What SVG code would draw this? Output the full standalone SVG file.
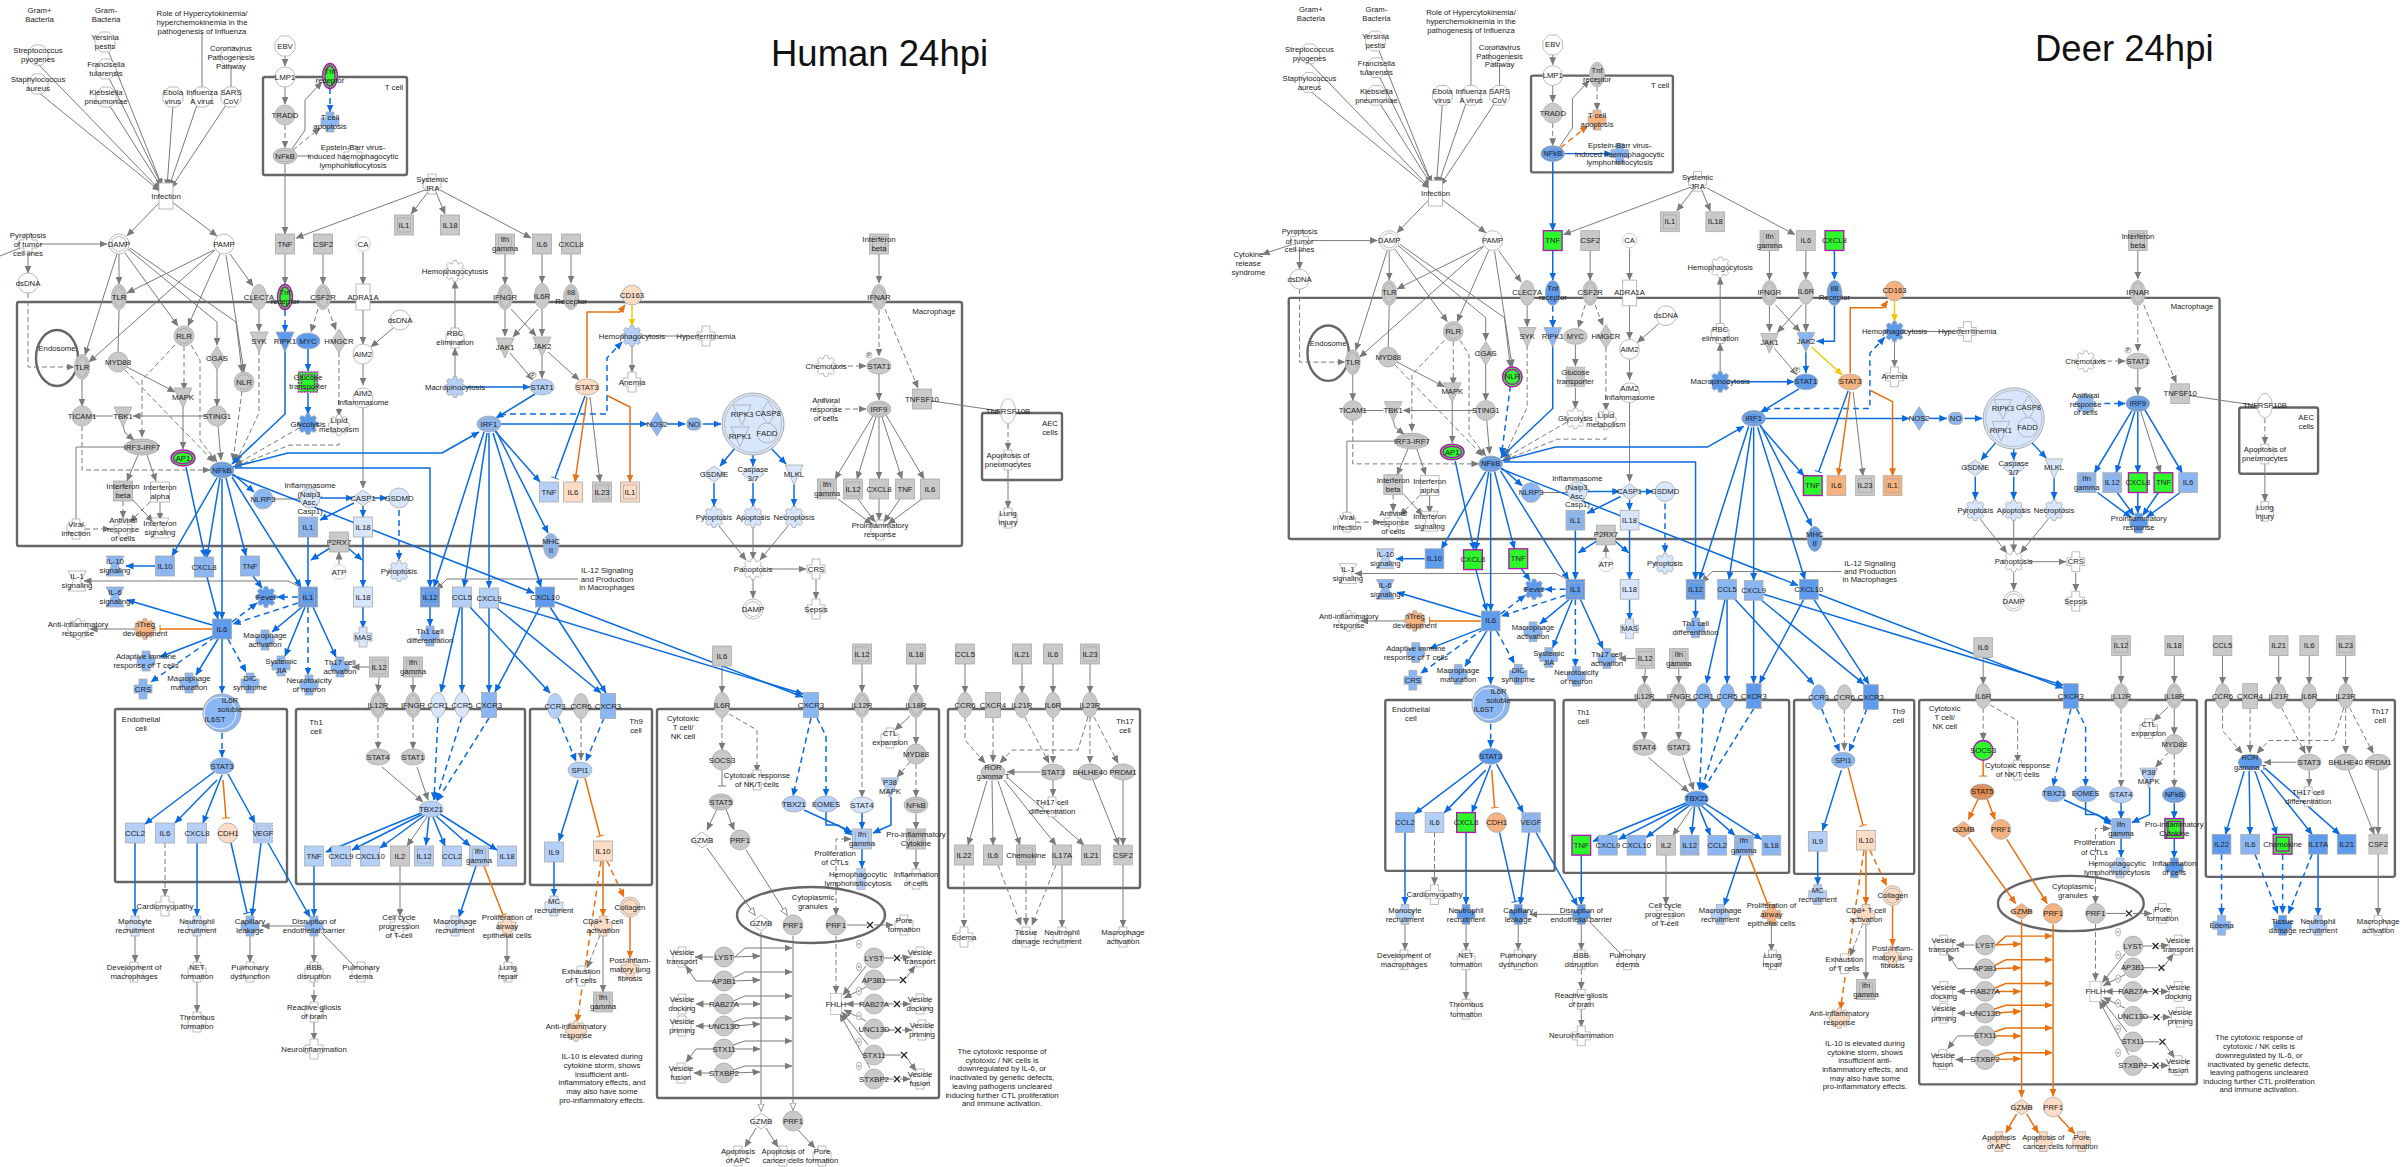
<svg xmlns="http://www.w3.org/2000/svg" width="2407" height="1167" viewBox="0 0 2407 1167">
<style>
text{font:7.8px "Liberation Sans",Arial,sans-serif;text-anchor:middle;dominant-baseline:central;fill:#222;stroke:none}
.t{font-size:36.5px;text-anchor:start;dominant-baseline:auto;fill:#111}
use{stroke:#aaa;stroke-width:.8}
.w{fill:#fff}.g{fill:#c9c9c9}.b0{fill:#d7e6fb}.b1{fill:#b4d0f8}.b2{fill:#8ab6f3}.b3{fill:#5f9bec}
.o1{fill:#fcdcc4}.o2{fill:#f6b27f}.o3{fill:#e58a4c}.m{fill:#2cf82c}.m use{stroke:#b018b0;stroke-width:1.4}
.box rect,.box ellipse{fill:none;stroke:#666;stroke-width:2.4}
.eg,.el,.ed,.eh,.bl,.bd,.bt,.or,.od,.ot,.ye,.gt{fill:none;stroke-linejoin:round}
.eg,.el,.ed,.eh,.gt{stroke:#7a7a7a;stroke-width:1}
.bl,.bd,.bt{stroke:#0a6be0;stroke-width:1.5}
.or,.od,.ot{stroke:#e8700f;stroke-width:1.5}
.ye{stroke:#f0c80f;stroke-width:1.5;marker-end:url(#ay)}
.eg,.ed{marker-end:url(#ag)}.eh{marker-end:url(#ah)}
.bl,.bd{marker-end:url(#ab)}.or,.od{marker-end:url(#ao)}
.bt{marker-end:url(#tb)}.ot{marker-end:url(#to)}.gt{marker-end:url(#tg)}
.ed{stroke-dasharray:5 3}.bd{stroke-dasharray:6 4}.od{stroke-dasharray:6 4}
.xx path{stroke:#222;stroke-width:1.3;fill:none}
</style>
<defs>
<marker id="ag" markerUnits="userSpaceOnUse" markerWidth="9" markerHeight="8" refX="7.5" refY="3.5" orient="auto"><path d="M0,0L8,3.5L0,7Z" fill="#7a7a7a"/></marker>
<marker id="ah" markerUnits="userSpaceOnUse" markerWidth="9" markerHeight="8" refX="7.5" refY="3.5" orient="auto"><path d="M.5,.5L8,3.5L.5,6.5Z" fill="#fff" stroke="#7a7a7a" stroke-width=".8"/></marker>
<marker id="ab" markerUnits="userSpaceOnUse" markerWidth="9" markerHeight="8" refX="7.5" refY="3.5" orient="auto"><path d="M0,0L8,3.5L0,7Z" fill="#0a6be0"/></marker>
<marker id="ao" markerUnits="userSpaceOnUse" markerWidth="9" markerHeight="8" refX="7.5" refY="3.5" orient="auto"><path d="M0,0L8,3.5L0,7Z" fill="#e8700f"/></marker>
<marker id="ay" markerUnits="userSpaceOnUse" markerWidth="9" markerHeight="8" refX="7.5" refY="3.5" orient="auto"><path d="M0,0L8,3.5L0,7Z" fill="#f0c80f"/></marker>
<marker id="tb" markerUnits="userSpaceOnUse" markerWidth="3" markerHeight="8" refX="1" refY="4" orient="auto"><path d="M1,0V8" stroke="#0a6be0"/></marker>
<marker id="to" markerUnits="userSpaceOnUse" markerWidth="3" markerHeight="8" refX="1" refY="4" orient="auto"><path d="M1,0V8" stroke="#e8700f"/></marker>
<marker id="tg" markerUnits="userSpaceOnUse" markerWidth="3" markerHeight="8" refX="1" refY="4" orient="auto"><path d="M1,0V8" stroke="#7a7a7a"/></marker>
<rect id="sq" x="-9.5" y="-10" width="19" height="20"/>
<g id="sd"><rect x="-9.5" y="-10" width="19" height="20"/><rect x="-6.5" y="-7" width="13" height="14" fill="none"/></g>
<g id="sx"><rect x="-9.5" y="-10" width="19" height="20" stroke-dasharray="2 1"/><rect x="-6.5" y="-7" width="13" height="14" fill="none" stroke-dasharray="2 1"/></g>
<circle id="ci" r="10"/>
<g id="cd"><circle r="10"/><circle r="7.5" fill="none"/></g>
<ellipse id="re" rx="7.5" ry="12.5"/>
<g id="rd"><ellipse rx="7.5" ry="12.5"/><ellipse rx="5" ry="10" fill="none"/></g>
<ellipse id="ov" rx="12" ry="8"/>
<g id="vd"><ellipse rx="12" ry="8"/><ellipse rx="9.5" ry="5.8" fill="none"/></g>
<path id="di" d="M0,-12L7.5,0L0,12L-7.5,0Z"/>
<path id="dw" d="M0,-8L11,0L0,8L-11,0Z"/>
<path id="tr" d="M-9,-9H9L0,11Z"/>
<path id="hg" d="M-9,-10H9L3.5,0L9,10H-9L-3.5,0Z"/>
<path id="oc" d="M-4,-10H4L10,-4V4L4,10H-4L-10,4V-4Z"/>
<rect id="ta" x="-7.5" y="-12.5" width="15" height="25"/>
<rect id="nr" x="-7" y="-13" width="14" height="26"/>
<path id="cx" d="M-4,-10H4V-4H9V4H4V10H-4V4H-9V-4H-4Z"/>
<path id="gr" d="M10.4,-1.6L10.4,1.6L6.9,2.9L8.5,6.2L6.2,8.5L2.9,6.9L1.6,10.4L-1.6,10.4L-2.9,6.9L-6.2,8.5L-8.5,6.2L-6.9,2.9L-10.4,1.6L-10.4,-1.6L-6.9,-2.9L-8.5,-6.2L-6.2,-8.5L-2.9,-6.9L-1.6,-10.4L1.6,-10.4L2.9,-6.9L6.2,-8.5L8.5,-6.2L6.9,-2.9Z"/>
<g id="st"><ellipse rx="2.4" ry="4" fill="#fff" stroke="#777" stroke-width=".6"/><circle r=".7" fill="#333"/></g>
</defs>
<rect width="2407" height="1167" fill="#fff"/>

<g id="human">
<text class="t" x="771" y="66">Human 24hpi</text>
<g class="box" id="h-containers"><rect x="263" y="77" width="144" height="98" rx="2"/><rect x="17" y="302" width="945" height="244" rx="2"/><ellipse cx="57" cy="358" rx="21" ry="28"/><rect x="982" y="413" width="80" height="67" rx="2"/><rect x="115" y="709" width="172" height="173" rx="2"/><rect x="296" y="709" width="229" height="175" rx="2"/><rect x="530" y="709" width="122" height="176" rx="2"/><rect x="657" y="709" width="282" height="389" rx="2"/><rect x="948" y="709" width="192" height="179" rx="2"/><ellipse cx="811" cy="915" rx="74" ry="28"/></g>
<g id="h-connectors">
<g class="eg"><path d="M38,64L160,190"/><path d="M38,92L160,191"/><path d="M108,50L162,186"/><path d="M108,76L162,186"/><path d="M108,103L162,188"/><path d="M173,105L167,187"/><path d="M197,105L169,187"/><path d="M226,105L171,188"/><path d="M160,202L127,236"/><path d="M172,202L217,236"/><path d="M40,244L107,244"/><path d="M28,252L28,273"/><path d="M119,254L119,284"/><path d="M117,254L85,355"/><path d="M125,253L178,326"/><path d="M128,249L217,322L217,345"/><path d="M130,248L236,322L242,372"/><path d="M214,250L127,293"/><path d="M215,250L89,362"/><path d="M220,254L188,326"/><path d="M230,254L253,286"/><path d="M226,255L244,372"/><path d="M82,380L82,406"/><path d="M127,367L175,392"/><path d="M217,368L217,406"/><path d="M218,426L221,460"/><path d="M207,416L133,416"/><path d="M123,425L125,433L134,440"/><path d="M183,405L183,449"/><path d="M138,455L127,481"/><path d="M147,455L156,481"/><path d="M133,500L153,522"/><path d="M160,502L160,520"/><path d="M259,310L259,331"/><path d="M285,164L285,234"/><path d="M425,190L296,238"/><path d="M428,192L411,214"/><path d="M436,192L445,214"/><path d="M440,190L531,238"/><path d="M285,56L285,66"/><path d="M285,87L285,104"/><path d="M292,149L305,130L305,100L322,82"/><path d="M323,254L323,284"/><path d="M363,252L363,284"/><path d="M285,254L285,284"/><path d="M363,310L363,344"/><path d="M393,328L371,347"/><path d="M363,364L363,385"/><path d="M363,405L363,488"/><path d="M339,564L339,552"/><path d="M302,588L288,581L84,581"/><path d="M135,629L90,629"/><path d="M455,377L455,348"/><path d="M455,328L455,281"/><path d="M505,254L505,284"/><path d="M542,254L542,283"/><path d="M571,254L571,283"/><path d="M505,310L505,336"/><path d="M511,309L536,336"/><path d="M538,309L513,337"/><path d="M542,309L542,336"/><path d="M510,353L533,380"/><path d="M542,357L542,378"/><path d="M548,352L579,380"/><path d="M590,397L600,482"/><path d="M632,346L632,372"/><path d="M719,526L746,560"/><path d="M753,527L753,559"/><path d="M788,526L760,560"/><path d="M768,569L806,569"/><path d="M753,580L753,598"/><path d="M816,580L816,599"/><path d="M879,254L879,283"/><path d="M879,374L879,400"/><path d="M873,416L835,479"/><path d="M876,417L857,479"/><path d="M879,417L879,479"/><path d="M882,417L902,479"/><path d="M886,415L924,479"/><path d="M838,499L872,524"/><path d="M858,499L875,522"/><path d="M879,499L879,520"/><path d="M900,499L884,522"/><path d="M922,499L888,524"/><path d="M1008,470L1008,508"/><path d="M379,677L378,692"/><path d="M413,677L413,692"/><path d="M382,767L423,802"/><path d="M417,767L428,800"/><path d="M427,817L407,846"/><path d="M369,667L352,667"/><path d="M578,579L447,579L436,590"/><path d="M305,926L262,926"/><path d="M135,936L135,962"/><path d="M197,936L197,962"/><path d="M197,982L197,1012"/><path d="M250,936L250,962"/><path d="M314,936L314,962"/><path d="M314,1022L314,1040"/><path d="M400,866L400,916"/><path d="M507,936L507,963"/><path d="M603,936L603,992"/><path d="M722,666L722,693"/><path d="M862,664L862,692"/><path d="M916,664L916,692"/><path d="M910,716L895,730"/><path d="M916,718L916,744"/><path d="M717,809L707,830"/><path d="M726,809L734,830"/><path d="M916,813L916,829"/><path d="M916,849L916,869"/><path d="M874,925L893,925"/><path d="M756,1128L745,1147"/><path d="M766,1128L778,1147"/><path d="M798,1130L815,1148"/><path d="M713,957L695,957"/><path d="M713,981L696,981L686,966"/><path d="M711,1004L696,1004"/><path d="M713,1026L696,1026"/><path d="M714,1049L696,1049L686,1062"/><path d="M711,1073L694,1073"/><path d="M866,966L843,995"/><path d="M866,987L844,998"/><path d="M862,1004L846,1004"/><path d="M866,1021L844,1010"/><path d="M868,1045L842,1012"/><path d="M870,1068L840,1014"/><path d="M900,958L910,957"/><path d="M906,978L915,966"/><path d="M900,1004L910,1004"/><path d="M902,1030L912,1030"/><path d="M907,1058L916,1071"/><path d="M900,1079L910,1079"/><path d="M965,664L965,693"/><path d="M1022,664L1022,693"/><path d="M1053,664L1053,693"/><path d="M1090,664L1090,693"/><path d="M1040,772L1007,772"/><path d="M1053,780L1053,796"/><path d="M987,781L968,845"/><path d="M992,781L993,845"/><path d="M998,781L1020,845"/><path d="M1004,780L1056,845"/><path d="M1008,778L1084,845"/><path d="M1093,780L1119,845"/><path d="M1123,780L1123,845"/><path d="M1062,865L1062,927"/><path d="M1123,865L1123,927"/><path d="M735,957L745,948L792,948"/><path d="M733,957L760,956"/><path d="M733,978L745,972L792,972"/><path d="M733,981L760,980"/><path d="M733,1001L745,996L792,996"/><path d="M733,1004L760,1004"/><path d="M733,1022L745,1018L792,1018"/><path d="M733,1026L760,1024"/><path d="M733,1045L745,1041L792,1041"/><path d="M733,1049L760,1049"/><path d="M733,1070L745,1066L792,1066"/><path d="M733,1073L760,1072"/></g>
<g class="el"><path d="M202,32L202,88"/><path d="M231,65L231,88"/><path d="M20,248L0,256"/><path d="M119,310L118,352"/><path d="M92,416L113,416"/><path d="M125,447L76,447L76,520"/><path d="M297,156L310,156"/><path d="M273,499L300,499"/><path d="M645,336L690,336"/><path d="M321,932L356,968"/><path d="M932,401L1000,411"/><path d="M847,925L867,925"/><path d="M884,958L894,958"/><path d="M884,980L900,980"/><path d="M884,1004L894,1004"/><path d="M884,1030L895,1030"/><path d="M884,1055L901,1055"/><path d="M884,1079L894,1079"/></g>
<g class="ed"><path d="M28,293L28,367L74,367"/><path d="M125,370L214,462"/><path d="M175,345L142,380L142,437"/><path d="M184,346L184,390"/><path d="M191,345L200,360L200,440L217,462"/><path d="M242,391L233,461"/><path d="M259,350L259,413L236,462"/><path d="M82,426L82,470L210,470"/><path d="M123,501L123,518"/><path d="M150,502L130,522"/><path d="M85,529L110,529"/><path d="M299,428L235,465"/><path d="M339,443L339,445L290,445L234,467"/><path d="M339,352L339,416"/><path d="M318,309L311,332"/><path d="M328,309L336,330"/><path d="M285,125L285,148"/><path d="M293,150L320,128"/><path d="M879,310L879,356"/><path d="M885,309L918,388"/><path d="M840,366L866,366"/><path d="M845,409L866,409"/><path d="M1008,424L1008,450"/><path d="M165,843L165,896"/><path d="M314,982L314,1002"/><path d="M378,717L378,749"/><path d="M413,717L413,749"/><path d="M581,718L581,760"/><path d="M600,935L587,968"/><path d="M722,717L722,750"/><path d="M729,714L757,730L757,772"/><path d="M862,718L862,797"/><path d="M910,762L897,777"/><path d="M916,764L916,797"/><path d="M836,850L836,839L851,839"/><path d="M836,858L836,915"/><path d="M836,936L836,993"/><path d="M965,717L965,740L985,763"/><path d="M993,718L993,762"/><path d="M1025,717L1049,763"/><path d="M1053,717L1053,763"/><path d="M1088,717L1078,750L1012,750L1000,763"/><path d="M1090,717L1090,763"/><path d="M1094,717L1118,763"/><path d="M964,865L964,927"/><path d="M998,865L1021,925"/><path d="M1026,865L1026,925"/><path d="M1056,865L1032,925"/></g>
<g class="eh"><path d="M707,848L755,915"/><path d="M746,850L787,915"/><path d="M761,932L761,1111"/><path d="M793,936L793,1110"/></g>
<g class="gt"><path d="M722,770L722,786"/></g>
<g class="bl"><path d="M285,350L285,414L232,464"/><path d="M308,349L308,371"/><path d="M308,393L308,414"/><path d="M186,467L205,557"/><path d="M217,478L172,556"/><path d="M220,478L207,557"/><path d="M222,479L222,619"/><path d="M226,478L246,556"/><path d="M232,477L301,587"/><path d="M233,474L254,492"/><path d="M233,467L288,453L442,453L479,432"/><path d="M235,468L430,468L430,587"/><path d="M232,475L534,593"/><path d="M320,498L353,498"/><path d="M373,498L387,498"/><path d="M354,503L320,520"/><path d="M363,506L363,517"/><path d="M308,537L308,587"/><path d="M363,537L363,587"/><path d="M363,607L363,628"/><path d="M330,548L311,560"/><path d="M348,548L362,560"/><path d="M302,607L272,632"/><path d="M305,607L285,656"/><path d="M313,607L336,657"/><path d="M253,576L262,588"/><path d="M207,577L218,619"/><path d="M155,566L126,566"/><path d="M212,625L127,600"/><path d="M214,636L160,657"/><path d="M218,639L196,675"/><path d="M222,639L222,693"/><path d="M214,772L145,824"/><path d="M217,780L175,823"/><path d="M222,775L203,823"/><path d="M228,774L255,823"/><path d="M135,843L135,916"/><path d="M197,843L197,916"/><path d="M261,843L252,916"/><path d="M268,843L310,917"/><path d="M314,866L314,916"/><path d="M476,866L459,917"/><path d="M421,813L326,852"/><path d="M423,814L352,850"/><path d="M425,815L380,848"/><path d="M429,817L426,845"/><path d="M433,817L445,846"/><path d="M436,816L470,846"/><path d="M440,814L497,850"/><path d="M460,607L441,692"/><path d="M462,607L462,692"/><path d="M470,607L550,693"/><path d="M489,608L489,692"/><path d="M497,608L601,693"/><path d="M540,607L495,692"/><path d="M550,607L606,693"/><path d="M499,602L803,694"/><path d="M555,602L803,697"/><path d="M495,431L540,482"/><path d="M500,424L647,424"/><path d="M667,424L685,424"/><path d="M703,424L721,424"/><path d="M736,447L720,466"/><path d="M753,455L753,466"/><path d="M770,447L786,464"/><path d="M714,483L714,506"/><path d="M753,483L753,506"/><path d="M794,484L794,506"/><path d="M484,432L434,587"/><path d="M487,433L464,587"/><path d="M489,433L489,588"/><path d="M493,433L541,587"/><path d="M496,431L548,533"/><path d="M535,394L496,418"/><path d="M466,387L530,387"/><path d="M430,607L430,626"/><path d="M578,780L559,841"/><path d="M554,862L554,896"/><path d="M804,810L852,832"/><path d="M826,812L826,825L838,825L852,835"/><path d="M862,813L862,829"/><path d="M891,797L891,825L873,833"/><path d="M862,849L862,868"/></g>
<g class="bd"><path d="M285,310L285,332"/><path d="M330,88L330,112"/><path d="M399,510L399,560"/><path d="M298,597L277,597"/><path d="M298,603L233,624"/><path d="M232,622L257,603"/><path d="M308,607L308,675"/><path d="M215,637L151,682"/><path d="M228,639L246,672"/><path d="M222,733L222,757"/><path d="M438,717L434,800"/><path d="M462,717L436,800"/><path d="M489,718L437,801"/><path d="M558,718L576,761"/><path d="M604,718L586,761"/><path d="M811,718L793,796"/><path d="M817,718L826,736L826,796"/><path d="M500,415L510,414L607,414L607,358L622,342"/></g>
<g class="bt"><path d="M585,396L555,478"/><path d="M231,843L247,913"/></g>
<g class="or"><path d="M587,397L575,482"/><path d="M608,396L630,407L630,482"/><path d="M587,378L587,312L620,312L625,305"/><path d="M603,861L603,916"/><path d="M630,917L630,958"/></g>
<g class="ot"><path d="M212,629L160,629"/><path d="M223,780L226,818"/><path d="M484,866L503,915"/><path d="M585,778L600,836"/></g>
<g class="od"><path d="M607,861L624,897"/><path d="M601,861L577,1022"/></g>
<g class="ye"><path d="M632,305L632,326"/></g>
<g class="xx"><path d="M867,922l6,6m0,-6l-6,6"/><path d="M894,955l6,6m0,-6l-6,6"/><path d="M900,977l6,6m0,-6l-6,6"/><path d="M894,1001l6,6m0,-6l-6,6"/><path d="M895,1027l6,6m0,-6l-6,6"/><path d="M901,1052l6,6m0,-6l-6,6"/><path d="M894,1076l6,6m0,-6l-6,6"/></g>
</g>
<g id="h-nodes">
<g id="h-gp"><text x="39.5" y="10">Gram+</text><text x="39.5" y="19">Bacteria</text></g>
<g id="h-gn"><text x="106" y="10">Gram-</text><text x="106" y="19">Bacteria</text></g>
<g id="h-strep" class="w" transform="translate(38,55)"><use href="#oc"/><text y="-4.3">Streptococcus<tspan x="0" dy="8.7">pyogenes</tspan></text></g>
<g id="h-staph" class="w" transform="translate(38,84)"><use href="#oc"/><text y="-4.3">Staphylococcus<tspan x="0" dy="8.7">aureus</tspan></text></g>
<g id="h-yers" class="w" transform="translate(105,42)"><use href="#oc"/><text y="-4.3">Yersinia<tspan x="0" dy="8.7">pestis</tspan></text></g>
<g id="h-fran" class="w" transform="translate(106,69)"><use href="#oc"/><text y="-4.3">Francisella<tspan x="0" dy="8.7">tularensis</tspan></text></g>
<g id="h-kleb" class="w" transform="translate(106,97)"><use href="#oc"/><text y="-4.3">Klebsiella<tspan x="0" dy="8.7">pneumoniae</tspan></text></g>
<g id="h-role" transform="translate(202,22)"><text y="-8.7">Role of Hypercytokinemia/<tspan x="0" dy="8.7">hyperchemokinemia in the</tspan><tspan x="0" dy="8.7">pathogenesis of Influenza</tspan></text></g>
<g id="h-corona" class="w" transform="translate(231,57)"><use href="#oc"/><text y="-8.7">Coronavirus<tspan x="0" dy="8.7">Pathogenesis</tspan><tspan x="0" dy="8.7">Pathway</tspan></text></g>
<g id="h-ebola" class="w" transform="translate(173,97)"><use href="#oc"/><text y="-4.3">Ebola<tspan x="0" dy="8.7">virus</tspan></text></g>
<g id="h-flu" class="w" transform="translate(202,97)"><use href="#oc"/><text y="-4.3">Influenza<tspan x="0" dy="8.7">A virus</tspan></text></g>
<g id="h-sars" class="w" transform="translate(231,97)"><use href="#oc"/><text y="-4.3">SARS<tspan x="0" dy="8.7">CoV</tspan></text></g>
<g id="h-infection" class="w" transform="translate(166,196)"><use href="#nr"/><text>Infection</text></g>
<g id="h-ebv" class="w" transform="translate(285,46)"><use href="#oc"/><text>EBV</text></g>
<g id="h-lmp1" class="w" transform="translate(285,77)"><use href="#ci"/><text>LMP1</text></g>
<g id="h-tnfr1" class="m" transform="translate(330,76)"><use href="#rd"/><text y="-4.3">Tnf<tspan x="0" dy="8.7">receptor</tspan></text></g>
<g id="h-tradd" class="g" transform="translate(285,115)"><use href="#ci"/><text>TRADD</text></g>
<g id="h-tap" class="b2" transform="translate(330,122)"><use href="#cx"/><text y="-4.3">T cell<tspan x="0" dy="8.7">apoptosis</tspan></text></g>
<g id="h-nfkb1" class="g" transform="translate(285,156)"><use href="#vd"/><text>NFkB</text></g>
<g id="h-ebvh" class="w" transform="translate(353,156)"><use href="#cx"/><text y="-8.7">Epstein-Barr virus-<tspan x="0" dy="8.7">induced haemophagocytic</tspan><tspan x="0" dy="8.7">lymphohistiocytosis</tspan></text></g>
<text x="394" y="87">T cell</text>
<g id="h-jra" class="w" transform="translate(432,184)"><use href="#cx"/><text y="-4.3">Systemic<tspan x="0" dy="8.7">JRA</tspan></text></g>
<g id="h-il1t" class="g" transform="translate(404,225)"><use href="#sd"/><text>IL1</text></g>
<g id="h-il18t" class="g" transform="translate(450,225)"><use href="#sq"/><text>IL18</text></g>
<g id="h-tnft" class="g" transform="translate(285,244)"><use href="#sq"/><text>TNF</text></g>
<g id="h-csf2" class="g" transform="translate(323,244)"><use href="#sq"/><text>CSF2</text></g>
<g id="h-ca" class="w" transform="translate(363,244)"><use href="#oc" transform="scale(.7)"/><text>CA</text></g>
<g id="h-ifnt" class="g" transform="translate(505,244)"><use href="#sd"/><text y="-4.3">Ifn<tspan x="0" dy="8.7">gamma</tspan></text></g>
<g id="h-il6t" class="g" transform="translate(542,244)"><use href="#sq"/><text>IL6</text></g>
<g id="h-cxcl8t" class="g" transform="translate(571,244)"><use href="#sq"/><text>CXCL8</text></g>
<g id="h-ptc" class="w" transform="translate(28,244)"><use href="#cx"/><text y="-8.7">Pyroptosis<tspan x="0" dy="8.7">of tumor</tspan><tspan x="0" dy="8.7">cell lines</tspan></text></g>
<g id="h-damp" class="w" transform="translate(119,244)"><use href="#cd"/><text>DAMP</text></g>
<g id="h-pamp" class="w" transform="translate(224,244)"><use href="#ci"/><text>PAMP</text></g>
<g id="h-dsdna" class="w" transform="translate(28,283)"><use href="#ci"/><text>dsDNA</text></g>
<g id="h-tlr" class="g" transform="translate(119,297)"><use href="#rd"/><text>TLR</text></g>
<g id="h-clec" class="g" transform="translate(259,297)"><use href="#re"/><text>CLEC7A</text></g>
<g id="h-tnfr2" class="m" transform="translate(285,297)"><use href="#rd"/><text y="-4.3">Tnf<tspan x="0" dy="8.7">receptor</tspan></text></g>
<g id="h-csf2r" class="g" transform="translate(323,297)"><use href="#rd"/><text>CSF2R</text></g>
<g id="h-adra" class="w" transform="translate(363,297)"><use href="#nr"/><text>ADRA1A</text></g>
<g id="h-hemo" class="w" transform="translate(455,271)"><use href="#gr"/><text>Hemophagocytosis</text></g>
<g id="h-ifngr" class="g" transform="translate(505,297)"><use href="#rd"/><text>IFNGR</text></g>
<g id="h-il6r" class="g" transform="translate(542,296)"><use href="#re"/><text>IL6R</text></g>
<g id="h-il8r" class="g" transform="translate(571,297)"><use href="#rd"/><text y="-4.3">Il8<tspan x="0" dy="8.7">Receptor</tspan></text></g>
<text x="57" y="348">Endosome</text>
<g id="h-tlr2" class="g" transform="translate(82,367)"><use href="#rd"/><text>TLR</text></g>
<g id="h-myd" class="g" transform="translate(118,362)"><use href="#ci"/><text>MYD88</text></g>
<g id="h-rlr" class="g" transform="translate(184,336)"><use href="#cd"/><text>RLR</text></g>
<g id="h-cgas" class="g" transform="translate(217,358)"><use href="#di"/><text>CGAS</text></g>
<g id="h-nlr" class="g" transform="translate(244,382)"><use href="#cd"/><text>NLR</text></g>
<g id="h-syk" class="g" transform="translate(259,341)"><use href="#tr"/><text>SYK</text></g>
<g id="h-ripk1" class="b3" transform="translate(285,341)"><use href="#tr"/><text>RIPK1</text></g>
<g id="h-myc" class="b3" transform="translate(308,341)"><use href="#ov"/><text>MYC</text></g>
<g id="h-hmg" class="g" transform="translate(339,341)"><use href="#di"/><text>HMGCR</text></g>
<g id="h-ds2" class="w" transform="translate(400,320)"><use href="#ci"/><text>dsDNA</text></g>
<g id="h-aim2" class="w" transform="translate(363,354)"><use href="#ci"/><text>AIM2</text></g>
<g id="h-glut" class="m" transform="translate(308,382)"><use href="#sx"/><text y="-4.3">Glucose<tspan x="0" dy="8.7">transporter</tspan></text></g>
<g id="h-aimi" class="w" transform="translate(363,398)"><use href="#ci"/><text y="-4.3">AIM2<tspan x="0" dy="8.7">Inflammasome</tspan></text></g>
<g id="h-rbc" class="w" transform="translate(455,338)"><use href="#cx"/><text y="-4.3">RBC<tspan x="0" dy="8.7">elimination</tspan></text></g>
<g id="h-macp" class="b1" transform="translate(455,387)"><use href="#gr"/><text>Macropinocytosis</text></g>
<g id="h-jak1" class="g" transform="translate(505,347)"><use href="#tr"/><text>JAK1</text></g>
<g id="h-jak2" class="g" transform="translate(542,346)"><use href="#tr"/><text>JAK2</text></g>
<g id="h-stat1" class="b1" transform="translate(542,387)"><use href="#ov"/><text>STAT1</text></g>
<g id="h-p2" class="w" transform="translate(533,375)"><circle r="3" stroke="#888" stroke-width=".6"/><text style="font-size:5px">P</text></g>
<g id="h-stat3" class="o1" transform="translate(587,387)"><use href="#ov"/><text>STAT3</text></g>
<g id="h-mapk" class="g" transform="translate(183,397)"><use href="#tr"/><text>MAPK</text></g>
<g id="h-cd163" class="o1" transform="translate(632,295)"><use href="#ci"/><text>CD163</text></g>
<g id="h-hemo2" class="b1" transform="translate(632,336)"><use href="#gr"/><text>Hemophagocytosis</text></g>
<g id="h-hyper" class="w" transform="translate(706,336)"><use href="#cx"/><text>Hyperferritinemia</text></g>
<g id="h-anem" class="w" transform="translate(632,382)"><use href="#cx"/><text>Anemia</text></g>
<g id="h-ifnb" class="g" transform="translate(879,244)"><use href="#sd"/><text y="-4.3">Interferon<tspan x="0" dy="8.7">beta</tspan></text></g>
<g id="h-ifnar" class="g" transform="translate(879,297)"><use href="#rd"/><text>IFNAR</text></g>
<text x="934" y="311">Macrophage</text>
<g id="h-stat1b" class="g" transform="translate(879,366)"><use href="#ov"/><text>STAT1</text></g>
<g id="h-p1" class="w" transform="translate(869,355)"><circle r="3" stroke="#888" stroke-width=".6"/><text style="font-size:5px">P</text></g>
<g id="h-chem" class="w" transform="translate(826,366)"><use href="#gr"/><text>Chemotaxis</text></g>
<g id="h-tnfsf" class="g" transform="translate(922,399)"><use href="#sq"/><text>TNFSF10</text></g>
<g id="h-ticam" class="g" transform="translate(82,416)"><use href="#ci"/><text>TICAM1</text></g>
<g id="h-tbk" class="g" transform="translate(123,416)"><use href="#tr"/><text>TBK1</text></g>
<g id="h-sting" class="g" transform="translate(217,416)"><use href="#ci"/><text>STING1</text></g>
<g id="h-irf37" class="g" transform="translate(142,447)"><use href="#vd" transform="scale(1.4,1)"/><text>IRF3-IRF7</text></g>
<g id="h-ap1" class="m" transform="translate(183,458)"><use href="#vd"/><text>AP1</text></g>
<g id="h-nfkb" class="b3" transform="translate(222,470)"><use href="#vd"/><text>NFkB</text></g>
<g id="h-ifnbm" class="g" transform="translate(123,491)"><use href="#sq"/><text y="-4.3">Interferon<tspan x="0" dy="8.7">beta</tspan></text></g>
<g id="h-ifna" class="w" transform="translate(160,492)"><use href="#sq"/><text y="-4.3">Interferon<tspan x="0" dy="8.7">alpha</tspan></text></g>
<g id="h-nlrp3" class="b2" transform="translate(263,499)"><use href="#ci"/><text>NLRP3</text></g>
<g id="h-infl" class="b0" transform="translate(310,498)"><use href="#ci"/><text y="-13">Inflammasome<tspan x="0" dy="8.7">(Nalp3,</tspan><tspan x="0" dy="8.7">Asc,</tspan><tspan x="0" dy="8.7">Casp1)</tspan></text></g>
<g id="h-casp1" class="b0" transform="translate(363,498)"><use href="#dw"/><text>CASP1</text></g>
<g id="h-gsdmd" class="b0" transform="translate(399,498)"><use href="#ci"/><text>GSDMD</text></g>
<g id="h-il1m" class="b2" transform="translate(308,527)"><use href="#sd"/><text>IL1</text></g>
<g id="h-il18m" class="b0" transform="translate(363,527)"><use href="#sq"/><text>IL18</text></g>
<g id="h-anti" class="w" transform="translate(123,529)"><use href="#cx"/><text y="-8.7">Antiviral<tspan x="0" dy="8.7">response</tspan><tspan x="0" dy="8.7">of cells</tspan></text></g>
<g id="h-viral" class="w" transform="translate(76,529)"><use href="#cx"/><text y="-4.3">Viral<tspan x="0" dy="8.7">infection</tspan></text></g>
<g id="h-ifns" class="w" transform="translate(160,528)"><use href="#hg"/><text y="-4.3">Interferon<tspan x="0" dy="8.7">signaling</tspan></text></g>
<g id="h-p2rx" class="g" transform="translate(339,542)"><use href="#sq"/><text>P2RX7</text></g>
<g id="h-glyc" class="b3" transform="translate(308,424)"><use href="#gr"/><text>Glycolysis</text></g>
<g id="h-lipid" class="w" transform="translate(339,425)"><use href="#gr"/><text y="-4.3">Lipid<tspan x="0" dy="8.7">metabolism</tspan></text></g>
<g id="h-irf1" class="b2" transform="translate(489,424)"><use href="#vd"/><text>IRF1</text></g>
<g id="h-tnfm" class="b1" transform="translate(549,492)"><use href="#sq"/><text>TNF</text></g>
<g id="h-il6m" class="o1" transform="translate(573,492)"><use href="#sq"/><text>IL6</text></g>
<g id="h-il23m" class="g" transform="translate(602,492)"><use href="#sd"/><text>IL23</text></g>
<g id="h-il1o" class="o1" transform="translate(630,492)"><use href="#sd"/><text>IL1</text></g>
<g id="h-mhc" class="b2" transform="translate(551,546)"><use href="#rd"/><text y="-4.3">MHC<tspan x="0" dy="8.7">II</tspan></text></g>
<g id="h-il10" class="b2" transform="translate(165,566)"><use href="#sq"/><text>IL10</text></g>
<g id="h-il10s" class="b2" transform="translate(115,566)"><use href="#hg"/><text y="-4.3">IL-10<tspan x="0" dy="8.7">signaling</tspan></text></g>
<g id="h-cx8" class="b2" transform="translate(204,567)"><use href="#sq"/><text>CXCL8</text></g>
<g id="h-tnfo" class="b2" transform="translate(250,566)"><use href="#sq"/><text>TNF</text></g>
<g id="h-il1s" class="w" transform="translate(77,581)"><use href="#hg"/><text y="-4.3">IL-1<tspan x="0" dy="8.7">signaling</tspan></text></g>
<g id="h-il6s" class="b2" transform="translate(115,597)"><use href="#hg"/><text y="-4.3">IL-6<tspan x="0" dy="8.7">signaling</tspan></text></g>
<g id="h-fever" class="b3" transform="translate(266,597)"><use href="#gr"/><text>Fever</text></g>
<g id="h-il1o2" class="b3" transform="translate(308,597)"><use href="#sd"/><text>IL1</text></g>
<g id="h-atp" class="w" transform="translate(339,572)"><use href="#oc" transform="scale(.7)"/><text>ATP</text></g>
<g id="h-pyro" class="b0" transform="translate(399,571)"><use href="#gr"/><text>Pyroptosis</text></g>
<g id="h-il18o" class="b0" transform="translate(363,597)"><use href="#sq"/><text>IL18</text></g>
<g id="h-mas" class="b0" transform="translate(363,637)"><use href="#cx"/><text>MAS</text></g>
<g id="h-il12o" class="b3" transform="translate(430,597)"><use href="#sd"/><text>IL12</text></g>
<g id="h-ccl5" class="b1" transform="translate(462,597)"><use href="#sq"/><text>CCL5</text></g>
<g id="h-cxcl9" class="b1" transform="translate(489,598)"><use href="#sq"/><text>CXCL9</text></g>
<g id="h-cxcl10" class="b3" transform="translate(545,597)"><use href="#sq"/><text>CXCL10</text></g>
<text x="607" y="570.5">IL-12 Signaling</text><text x="607" y="579">and Production</text><text x="607" y="587.5">in Macrophages</text>
<g id="h-il6" class="b3" transform="translate(222,629)"><use href="#sq"/><text>IL6</text></g>
<g id="h-ntreg" class="o2" transform="translate(145,629)"><use href="#gr"/><text y="-4.3">nTreg<tspan x="0" dy="8.7">development</tspan></text></g>
<g id="h-antii" class="w" transform="translate(78,629)"><use href="#gr"/><text y="-4.3">Anti-inflammatory<tspan x="0" dy="8.7">response</tspan></text></g>
<g id="h-maca" class="b2" transform="translate(265,640)"><use href="#cx"/><text y="-4.3">Macrophage<tspan x="0" dy="8.7">activation</tspan></text></g>
<g id="h-adap" class="b2" transform="translate(146,661)"><use href="#cx"/><text y="-4.3">Adaptive immune<tspan x="0" dy="8.7">response of T cells</tspan></text></g>
<g id="h-crs" class="b2" transform="translate(143,689)"><use href="#cx"/><text>CRS</text></g>
<g id="h-macm" class="b2" transform="translate(189,683)"><use href="#cx"/><text y="-4.3">Macrophage<tspan x="0" dy="8.7">maturation</tspan></text></g>
<g id="h-jia" class="b2" transform="translate(281,666)"><use href="#cx"/><text y="-4.3">Systemic<tspan x="0" dy="8.7">JIA</tspan></text></g>
<g id="h-dic" class="b2" transform="translate(250,683)"><use href="#cx"/><text y="-4.3">DIC<tspan x="0" dy="8.7">syndrome</tspan></text></g>
<g id="h-neur" class="b2" transform="translate(309,685)"><use href="#cx"/><text y="-4.3">Neurotoxicity<tspan x="0" dy="8.7">of neuron</tspan></text></g>
<g id="h-th17a" class="b2" transform="translate(340,667)"><use href="#cx"/><text y="-4.3">Th17 cell<tspan x="0" dy="8.7">activation</tspan></text></g>
<g id="h-il12g" class="g" transform="translate(379,667)"><use href="#sd"/><text>IL12</text></g>
<g id="h-ifng" class="g" transform="translate(413,667)"><use href="#sd"/><text y="-4.3">Ifn<tspan x="0" dy="8.7">gamma</tspan></text></g>
<g id="h-th1d" class="b2" transform="translate(430,636)"><use href="#cx"/><text y="-4.3">Th1 cell<tspan x="0" dy="8.7">differentiation</tspan></text></g>
<g id="h-cplx" class="b2" transform="translate(222,713)"><circle r="19" stroke="#aaa"/><circle cx="-2" r="16" fill="none" stroke="#eef"/><text x="8" y="-13">IL6R<tspan x="8" dy="8.7">soluble</tspan></text><text x="-7" y="6">IL6ST</text></g>
<g id="h-il12r" class="g" transform="translate(378,705)"><use href="#rd"/><text>IL12R</text></g>
<g id="h-ifngr2" class="g" transform="translate(413,705)"><use href="#rd"/><text>IFNGR</text></g>
<g id="h-ccr1" class="b0" transform="translate(438,705)"><use href="#re"/><text>CCR1</text></g>
<g id="h-ccr5" class="b0" transform="translate(462,705)"><use href="#re"/><text>CCR5</text></g>
<g id="h-cxcr3a" class="b2" transform="translate(489,705)"><use href="#ta"/><text>CXCR3</text></g>
<g id="h-ccr3" class="b1" transform="translate(555,706)"><use href="#re"/><text>CCR3</text></g>
<g id="h-ccr6a" class="g" transform="translate(581,706)"><use href="#re"/><text>CCR6</text></g>
<g id="h-cxcr3b" class="b2" transform="translate(608,706)"><use href="#ta"/><text>CXCR3</text></g>
<text x="141" y="719">Endothelial</text><text x="141" y="728">cell</text><text x="316" y="722">Th1</text><text x="316" y="731">cell</text><text x="636" y="721">Th9</text><text x="636" y="730">cell</text><text x="683" y="718">Cytotoxic</text><text x="683" y="727">T cell/</text><text x="683" y="736">NK cell</text><text x="1125" y="721">Th17</text><text x="1125" y="730">cell</text><text x="1050" y="423">AEC</text><text x="1050" y="432">cells</text>
<g id="h-tnfrsf" class="w" transform="translate(1008,411)"><use href="#re"/><text>TNFRSF10B</text></g>
<g id="h-apopn" class="w" transform="translate(1008,460)"><use href="#cx"/><text y="-4.3">Apoptosis of<tspan x="0" dy="8.7">pneumocytes</tspan></text></g>
<g id="h-lung" class="w" transform="translate(1008,518)"><use href="#cx"/><text y="-4.3">Lung<tspan x="0" dy="8.7">injury</tspan></text></g>
<g id="h-nos2" class="b2" transform="translate(657,424)"><use href="#di"/><text>NOS2</text></g>
<g id="h-no" class="b2" transform="translate(694,424)"><rect x="-7" y="-6" width="14" height="12" rx="5" stroke="#aaa"/><text>NO</text></g>
<g id="h-rcx" class="b0" transform="translate(753,424)"><circle r="31" stroke="#aaa"/><circle r="28.5" fill="none" stroke="#aaa" stroke-width=".7"/></g>
<g id="h-ripk3" class="b0" transform="translate(742,414)"><use href="#tr"/><text>RIPK3</text></g>
<g id="h-casp8" class="b0" transform="translate(768,413)"><use href="#di"/><text>CASP8</text></g>
<g id="h-ripk1c" class="b0" transform="translate(740,436)"><use href="#tr"/><text>RIPK1</text></g>
<g id="h-fadd" class="b0" transform="translate(767,433)"><use href="#ci"/><text>FADD</text></g>
<g id="h-gsdme" class="b0" transform="translate(714,474)"><use href="#dw"/><text>GSDME</text></g>
<g id="h-casp37" class="b0" transform="translate(753,474)"><use href="#dw"/><text y="-4.3">Caspase<tspan x="0" dy="8.7">3/7</tspan></text></g>
<g id="h-mlkl" class="b0" transform="translate(794,474)"><use href="#tr"/><text>MLKL</text></g>
<g id="h-pyr2" class="b0" transform="translate(714,517)"><use href="#gr"/><text>Pyroptosis</text></g>
<g id="h-apop" class="b0" transform="translate(753,517)"><use href="#gr"/><text>Apoptosis</text></g>
<g id="h-necr" class="b0" transform="translate(794,517)"><use href="#gr"/><text>Necroptosis</text></g>
<g id="h-pano" class="w" transform="translate(753,569)"><use href="#gr"/><text>Panoptosis</text></g>
<g id="h-crs2" class="w" transform="translate(816,569)"><use href="#cx"/><text>CRS</text></g>
<g id="h-damp2" class="w" transform="translate(753,609)"><use href="#cd"/><text>DAMP</text></g>
<g id="h-sepsis" class="w" transform="translate(816,609)"><use href="#cx"/><text>Sepsis</text></g>
<g id="h-antiv" class="w" transform="translate(826,409)"><use href="#gr"/><text y="-8.7">Antiviral<tspan x="0" dy="8.7">response</tspan><tspan x="0" dy="8.7">of cells</tspan></text></g>
<g id="h-irf9" class="g" transform="translate(879,409)"><use href="#vd"/><text>IRF9</text></g>
<g id="h-ifng2" class="g" transform="translate(827,489)"><use href="#sd"/><text y="-4.3">Ifn<tspan x="0" dy="8.7">gamma</tspan></text></g>
<g id="h-il12b" class="g" transform="translate(853,489)"><use href="#sd"/><text>IL12</text></g>
<g id="h-cx8b" class="g" transform="translate(879,489)"><use href="#sq"/><text>CXCL8</text></g>
<g id="h-tnfb" class="g" transform="translate(905,489)"><use href="#sq"/><text>TNF</text></g>
<g id="h-il6b" class="g" transform="translate(930,489)"><use href="#sq"/><text>IL6</text></g>
<g id="h-proi" class="w" transform="translate(880,530)"><use href="#cx"/><text y="-4.3">Proinflammatory<tspan x="0" dy="8.7">response</tspan></text></g>
<g id="h-il6c" class="g" transform="translate(722,656)"><use href="#sq"/><text>IL6</text></g>
<g id="h-il12c" class="g" transform="translate(862,654)"><use href="#sd"/><text>IL12</text></g>
<g id="h-il18c" class="g" transform="translate(916,654)"><use href="#sq"/><text>IL18</text></g>
<g id="h-ccl5c" class="g" transform="translate(965,654)"><use href="#sq"/><text>CCL5</text></g>
<g id="h-il21c" class="g" transform="translate(1022,654)"><use href="#sq"/><text>IL21</text></g>
<g id="h-il6d" class="g" transform="translate(1053,654)"><use href="#sq"/><text>IL6</text></g>
<g id="h-il23c" class="g" transform="translate(1090,654)"><use href="#sd"/><text>IL23</text></g>
<g id="h-il6rc" class="g" transform="translate(722,705)"><use href="#re"/><text>IL6R</text></g>
<g id="h-cxcr3c" class="b2" transform="translate(811,705)"><use href="#ta"/><text>CXCR3</text></g>
<g id="h-il12rc" class="g" transform="translate(862,705)"><use href="#rd"/><text>IL12R</text></g>
<g id="h-il18r" class="g" transform="translate(916,705)"><use href="#rd"/><text>IL18R</text></g>
<g id="h-ccr6" class="g" transform="translate(965,705)"><use href="#re"/><text>CCR6</text></g>
<g id="h-cxcr4" class="g" transform="translate(993,705)"><use href="#ta"/><text>CXCR4</text></g>
<g id="h-il21r" class="g" transform="translate(1022,705)"><use href="#re"/><text>IL21R</text></g>
<g id="h-il6rd" class="g" transform="translate(1053,705)"><use href="#re"/><text>IL6R</text></g>
<g id="h-il23r" class="g" transform="translate(1090,705)"><use href="#re"/><text>IL23R</text></g>
<g id="h-ctl" class="w" transform="translate(890,738)"><use href="#cx"/><text y="-4.3">CTL<tspan x="0" dy="8.7">expansion</tspan></text></g>
<g id="h-myd2" class="g" transform="translate(916,754)"><use href="#ci"/><text>MYD88</text></g>
<g id="h-socs3" class="g" transform="translate(722,760)"><use href="#ci"/><text>SOCS3</text></g>
<g id="h-cytr" class="w" transform="translate(757,780)"><use href="#cx"/><text y="-4.3">Cytotoxic response<tspan x="0" dy="8.7">of NK/T cells</tspan></text></g>
<g id="h-p38" class="b1" transform="translate(890,787)"><use href="#tr"/><text y="-4.3">P38<tspan x="0" dy="8.7">MAPK</tspan></text></g>
<g id="h-ror" class="g" transform="translate(993,772)"><use href="#ov"/><text y="-4.3">ROR<tspan x="0" dy="8.7">gamma T</tspan></text></g>
<g id="h-st3t" class="g" transform="translate(1053,772)"><use href="#ov"/><text>STAT3</text></g>
<g id="h-bhl" class="g" transform="translate(1090,772)"><use href="#ov"/><text>BHLHE40</text></g>
<g id="h-prd" class="g" transform="translate(1123,772)"><use href="#ov"/><text>PRDM1</text></g>
<g id="h-st4a" class="g" transform="translate(378,757)"><use href="#ov"/><text>STAT4</text></g>
<g id="h-st1a" class="g" transform="translate(413,757)"><use href="#ov"/><text>STAT1</text></g>
<g id="h-spi1" class="b1" transform="translate(580,770)"><use href="#ov"/><text>SPI1</text></g>
<g id="h-st3e" class="b2" transform="translate(222,766)"><use href="#ov"/><text>STAT3</text></g>
<g id="h-tbx" class="b1" transform="translate(431,809)"><use href="#ov"/><text>TBX21</text></g>
<g id="h-ccl2" class="b1" transform="translate(135,833)"><use href="#sq"/><text>CCL2</text></g>
<g id="h-il6e" class="b1" transform="translate(165,833)"><use href="#sq"/><text>IL6</text></g>
<g id="h-cx8e" class="b1" transform="translate(197,833)"><use href="#sq"/><text>CXCL8</text></g>
<g id="h-cdh1" class="o1" transform="translate(228,833)"><use href="#ci"/><text>CDH1</text></g>
<g id="h-vegf" class="b1" transform="translate(263,833)"><use href="#sx"/><text>VEGF</text></g>
<g id="h-tnfc" class="b1" transform="translate(314,856)"><use href="#sq"/><text>TNF</text></g>
<g id="h-cxcl9c" class="b1" transform="translate(341,856)"><use href="#sq"/><text>CXCL9</text></g>
<g id="h-cxcl10c" class="b1" transform="translate(370,856)"><use href="#sq"/><text>CXCL10</text></g>
<g id="h-il2" class="g" transform="translate(400,856)"><use href="#sq"/><text>IL2</text></g>
<g id="h-il12e" class="b1" transform="translate(424,856)"><use href="#sd"/><text>IL12</text></g>
<g id="h-ccl2c" class="b1" transform="translate(452,856)"><use href="#sq"/><text>CCL2</text></g>
<g id="h-ifnc" class="b1" transform="translate(479,856)"><use href="#sd"/><text y="-4.3">Ifn<tspan x="0" dy="8.7">gamma</tspan></text></g>
<g id="h-il18e" class="b1" transform="translate(507,856)"><use href="#sq"/><text>IL18</text></g>
<g id="h-il9" class="b1" transform="translate(554,852)"><use href="#sq"/><text>IL9</text></g>
<g id="h-il10o" class="o1" transform="translate(603,851)"><use href="#sq"/><text>IL10</text></g>
<g id="h-card" class="w" transform="translate(165,906)"><use href="#cx"/><text>Cardiomyopathy</text></g>
<g id="h-mono" class="b0" transform="translate(135,926)"><use href="#cx"/><text y="-4.3">Monocyte<tspan x="0" dy="8.7">recruitment</tspan></text></g>
<g id="h-neut" class="b0" transform="translate(197,926)"><use href="#cx"/><text y="-4.3">Neutrophil<tspan x="0" dy="8.7">recruitment</tspan></text></g>
<g id="h-capi" class="b2" transform="translate(250,926)"><use href="#cx"/><text y="-4.3">Capillary<tspan x="0" dy="8.7">leakage</tspan></text></g>
<g id="h-disr" class="b2" transform="translate(314,926)"><use href="#cx"/><text y="-4.3">Disruption of<tspan x="0" dy="8.7">endothelial barrier</tspan></text></g>
<g id="h-cellc" class="w" transform="translate(399,926)"><use href="#cx"/><text y="-8.7">Cell cycle<tspan x="0" dy="8.7">progression</tspan><tspan x="0" dy="8.7">of T-cell</tspan></text></g>
<g id="h-macr" class="b0" transform="translate(455,926)"><use href="#cx"/><text y="-4.3">Macrophage<tspan x="0" dy="8.7">recruitment</tspan></text></g>
<g id="h-prol" class="o1" transform="translate(507,926)"><use href="#cx"/><text y="-8.7">Proliferation of<tspan x="0" dy="8.7">airway</tspan><tspan x="0" dy="8.7">epithelial cells</tspan></text></g>
<g id="h-mc" class="b0" transform="translate(554,906)"><use href="#cx"/><text y="-4.3">MC<tspan x="0" dy="8.7">recruitment</tspan></text></g>
<g id="h-coll" class="o1" transform="translate(630,907)"><use href="#cd"/><text>Collagen</text></g>
<g id="h-cd8" class="o1" transform="translate(603,926)"><use href="#cx"/><text y="-4.3">CD8+ T cell<tspan x="0" dy="8.7">activation</tspan></text></g>
<g id="h-devm" class="w" transform="translate(134,972)"><use href="#cx"/><text y="-4.3">Development of<tspan x="0" dy="8.7">macrophages</tspan></text></g>
<g id="h-net" class="w" transform="translate(197,972)"><use href="#cx"/><text y="-4.3">NET<tspan x="0" dy="8.7">formation</tspan></text></g>
<g id="h-puld" class="w" transform="translate(250,972)"><use href="#cx"/><text y="-4.3">Pulmonary<tspan x="0" dy="8.7">dysfunction</tspan></text></g>
<g id="h-bbb" class="w" transform="translate(314,972)"><use href="#cx"/><text y="-4.3">BBB<tspan x="0" dy="8.7">disruption</tspan></text></g>
<g id="h-pule" class="w" transform="translate(361,972)"><use href="#cx"/><text y="-4.3">Pulmonary<tspan x="0" dy="8.7">edema</tspan></text></g>
<g id="h-lungr" class="w" transform="translate(508,972)"><use href="#cx"/><text y="-4.3">Lung<tspan x="0" dy="8.7">repair</tspan></text></g>
<g id="h-post" class="o1" transform="translate(630,969)"><use href="#cx"/><text y="-8.7">Post-inflam-<tspan x="0" dy="8.7">matory lung</tspan><tspan x="0" dy="8.7">fibrosis</tspan></text></g>
<g id="h-exh" class="w" transform="translate(581,976)"><use href="#cx"/><text y="-4.3">Exhaustion<tspan x="0" dy="8.7">of T cells</tspan></text></g>
<g id="h-ifnx" class="g" transform="translate(603,1002)"><use href="#sd"/><text y="-4.3">Ifn<tspan x="0" dy="8.7">gamma</tspan></text></g>
<g id="h-reac" class="w" transform="translate(314,1012)"><use href="#cx"/><text y="-4.3">Reactive gliosis<tspan x="0" dy="8.7">of brain</tspan></text></g>
<g id="h-thro" class="w" transform="translate(197,1022)"><use href="#cx"/><text y="-4.3">Thrombus<tspan x="0" dy="8.7">formation</tspan></text></g>
<g id="h-neuro" class="w" transform="translate(314,1049)"><use href="#cx"/><text>Neuroinflammation</text></g>
<g id="h-anto" class="o1" transform="translate(576,1031)"><use href="#gr"/><text y="-4.3">Anti-inflammatory<tspan x="0" dy="8.7">response</tspan></text></g>
<text transform="translate(602,1078)" y="-21.7">IL-10 is elevated during<tspan x="0" dy="8.7">cytokine storm, shows</tspan><tspan x="0" dy="8.7">insufficient anti-</tspan><tspan x="0" dy="8.7">inflammatory effects, and</tspan><tspan x="0" dy="8.7">may also have some</tspan><tspan x="0" dy="8.7">pro-inflammatory effects.</tspan></text>
<g id="h-st5" class="g" transform="translate(721,802)"><use href="#vd"/><text>STAT5</text></g>
<g id="h-tbx2" class="b1" transform="translate(794,804)"><use href="#ov"/><text>TBX21</text></g>
<g id="h-eomes" class="b1" transform="translate(826,804)"><use href="#ov"/><text>EOMES</text></g>
<g id="h-st4c" class="b0" transform="translate(862,805)"><use href="#ov"/><text>STAT4</text></g>
<g id="h-nfkc" class="g" transform="translate(916,805)"><use href="#vd"/><text>NFkB</text></g>
<g id="h-gz1" class="w" transform="translate(702,840)"><use href="#dw"/><text>GZMB</text></g>
<g id="h-pr1" class="g" transform="translate(740,840)"><use href="#ci"/><text>PRF1</text></g>
<g id="h-ifnd" class="b1" transform="translate(862,839)"><use href="#sd"/><text y="-4.3">Ifn<tspan x="0" dy="8.7">gamma</tspan></text></g>
<g id="h-proc" class="g" transform="translate(916,839)"><use href="#sd"/><text y="-4.3">Pro-inflammatory<tspan x="0" dy="8.7">Cytokine</tspan></text></g>
<g id="h-pctl" class="w" transform="translate(835,858)"><text y="-4.3">Proliferation<tspan x="0" dy="8.7">of CTLs</tspan></text></g>
<g id="h-hl" class="b1" transform="translate(861,879)"><use href="#nr" transform="scale(.6,.8)"/><text y="-4.3" x="-3">Hemophagocytic<tspan x="-3" dy="8.7">lymphohistiocytosis</tspan></text></g>
<g id="h-infc" class="w" transform="translate(916,879)"><use href="#cx"/><text y="-4.3">Inflammation<tspan x="0" dy="8.7">of cells</tspan></text></g>
<text x="813" y="897.5">Cytoplasmic</text><text x="813" y="906.5">granules</text>
<g id="h-gz2" class="w" transform="translate(761,923)"><use href="#dw"/><text>GZMB</text></g>
<g id="h-pr2" class="g" transform="translate(793,925)"><use href="#ci"/><text>PRF1</text></g>
<g id="h-pr3" class="g" transform="translate(836,925)"><use href="#ci"/><text>PRF1</text></g>
<g id="h-pore" class="w" transform="translate(904,925)"><use href="#cx"/><text y="-4.3">Pore<tspan x="0" dy="8.7">formation</tspan></text></g>
<g id="h-vt1" class="w" transform="translate(682,957)"><use href="#cx"/><text y="-4.3">Vesicle<tspan x="0" dy="8.7">transport</tspan></text></g>
<g id="h-lyst1" class="g" transform="translate(724,957)"><use href="#ci"/><text>LYST</text></g>
<g id="h-ap1a" class="g" transform="translate(724,981)"><use href="#ci"/><text>AP3B1</text></g>
<g id="h-vd1" class="w" transform="translate(682,1004)"><use href="#cx"/><text y="-4.3">Vesicle<tspan x="0" dy="8.7">docking</tspan></text></g>
<g id="h-rab1" class="g" transform="translate(724,1004)"><use href="#ci"/><text>RAB27A</text></g>
<g id="h-vp1" class="w" transform="translate(682,1026)"><use href="#cx"/><text y="-4.3">Vesicle<tspan x="0" dy="8.7">priming</tspan></text></g>
<g id="h-unc1" class="g" transform="translate(724,1026)"><use href="#ci"/><text>UNC13D</text></g>
<g id="h-stx1" class="g" transform="translate(724,1049)"><use href="#ci"/><text>STX11</text></g>
<g id="h-vf1" class="w" transform="translate(681,1073)"><use href="#cx"/><text y="-4.3">Vesicle<tspan x="0" dy="8.7">fusion</tspan></text></g>
<g id="h-sxb1" class="g" transform="translate(724,1073)"><use href="#ci"/><text>STXBP2</text></g>
<g id="h-lyst2" class="g" transform="translate(874,958)"><use href="#ci"/><text>LYST</text></g>
<g id="h-ap2" class="g" transform="translate(874,980)"><use href="#ci"/><text>AP3B1</text></g>
<g id="h-rab2" class="g" transform="translate(874,1004)"><use href="#ci"/><text>RAB27A</text></g>
<g id="h-unc2" class="g" transform="translate(874,1029)"><use href="#ci"/><text>UNC13D</text></g>
<g id="h-stx2" class="g" transform="translate(874,1055)"><use href="#ci"/><text>STX11</text></g>
<g id="h-sxb2" class="g" transform="translate(874,1079)"><use href="#ci"/><text>STXBP2</text></g>
<g id="h-vt2" class="w" transform="translate(920,957)"><use href="#cx"/><text y="-4.3">Vesicle<tspan x="0" dy="8.7">transport</tspan></text></g>
<g id="h-vd2" class="w" transform="translate(920,1004)"><use href="#cx"/><text y="-4.3">Vesicle<tspan x="0" dy="8.7">docking</tspan></text></g>
<g id="h-vp2" class="w" transform="translate(922,1030)"><use href="#cx"/><text y="-4.3">Vesicle<tspan x="0" dy="8.7">priming</tspan></text></g>
<g id="h-vf2" class="w" transform="translate(920,1079)"><use href="#cx"/><text y="-4.3">Vesicle<tspan x="0" dy="8.7">fusion</tspan></text></g>
<g id="h-fhlh" class="w" transform="translate(836,1004)"><use href="#nr" transform="scale(.8,.8)"/><text>FHLH</text></g>
<g id="h-stars"><use href="#st" x="859" y="944"/><use href="#st" x="859" y="967"/><use href="#st" x="859" y="991"/><use href="#st" x="859" y="1016"/><use href="#st" x="859" y="1042"/><use href="#st" x="859" y="1066"/></g>
<g id="h-gz3" class="w" transform="translate(761,1121)"><use href="#dw"/><text>GZMB</text></g>
<g id="h-pr4" class="g" transform="translate(793,1121)"><use href="#ci"/><text>PRF1</text></g>
<g id="h-aapc" class="w" transform="translate(738,1156)"><use href="#cx"/><text y="-4.3">Apoptosis<tspan x="0" dy="8.7">of APC</tspan></text></g>
<g id="h-acan" class="w" transform="translate(783,1156)"><use href="#cx"/><text y="-4.3">Apoptosis of<tspan x="0" dy="8.7">cancer cells</tspan></text></g>
<g id="h-pore2" class="w" transform="translate(822,1156)"><use href="#cx"/><text y="-4.3">Pore<tspan x="0" dy="8.7">formation</tspan></text></g>
<text transform="translate(1002,1077)" y="-26">The cytotoxic response of<tspan x="0" dy="8.7">cytotoxic / NK cells is</tspan><tspan x="0" dy="8.7">downregulated by IL-6, or</tspan><tspan x="0" dy="8.7">inactivated by genetic defects,</tspan><tspan x="0" dy="8.7">leaving pathogens uncleared</tspan><tspan x="0" dy="8.7">inducing further CTL proliferation</tspan><tspan x="0" dy="8.7">and immune activation.</tspan></text>
<g id="h-il22" class="g" transform="translate(964,855)"><use href="#sq"/><text>IL22</text></g>
<g id="h-il6f" class="g" transform="translate(993,855)"><use href="#sq"/><text>IL6</text></g>
<g id="h-chemk" class="g" transform="translate(1026,855)"><use href="#sd"/><text>Chemokine</text></g>
<g id="h-il17" class="g" transform="translate(1062,855)"><use href="#sq"/><text>IL17A</text></g>
<g id="h-il21f" class="g" transform="translate(1091,855)"><use href="#sq"/><text>IL21</text></g>
<g id="h-csf2f" class="g" transform="translate(1123,855)"><use href="#sq" stroke-dasharray="2 1"/><text>CSF2</text></g>
<g id="h-th17d" class="w" transform="translate(1052,807)"><use href="#cx"/><text y="-4.3">TH17 cell<tspan x="0" dy="8.7">differentiation</tspan></text></g>
<g id="h-edema" class="w" transform="translate(964,937)"><use href="#cx"/><text>Edema</text></g>
<g id="h-tiss" class="w" transform="translate(1026,937)"><use href="#cx"/><text y="-4.3">Tissue<tspan x="0" dy="8.7">damage</tspan></text></g>
<g id="h-neutf" class="w" transform="translate(1062,937)"><use href="#cx"/><text y="-4.3">Neutrophil<tspan x="0" dy="8.7">recruitment</tspan></text></g>
<g id="h-macaf" class="w" transform="translate(1123,937)"><use href="#cx"/><text y="-4.3">Macrophage<tspan x="0" dy="8.7">activation</tspan></text></g>
</g>
</g>

<text class="t" x="2035" y="61">Deer 24hpi</text>
<g id="deer" transform="translate(1272,-.5) scale(.985,.988)">
<g class="box" id="d-containers"><rect x="263" y="77" width="144" height="98" rx="2"/><rect x="17" y="302" width="945" height="244" rx="2"/><ellipse cx="57" cy="358" rx="21" ry="28"/><rect x="982" y="413" width="80" height="67" rx="2"/><rect x="115" y="709" width="172" height="173" rx="2"/><rect x="296" y="709" width="229" height="175" rx="2"/><rect x="530" y="709" width="122" height="176" rx="2"/><rect x="657" y="709" width="282" height="389" rx="2"/><rect x="948" y="709" width="192" height="179" rx="2"/><ellipse cx="811" cy="915" rx="74" ry="28"/></g>
<g id="d-connectors">
<g class="eg"><path d="M38,64L160,190"/><path d="M38,92L160,191"/><path d="M108,50L162,186"/><path d="M108,76L162,186"/><path d="M108,103L162,188"/><path d="M173,105L167,187"/><path d="M197,105L169,187"/><path d="M226,105L171,188"/><path d="M160,202L127,236"/><path d="M172,202L217,236"/><path d="M40,244L107,244"/><path d="M28,252L28,273"/><path d="M20,248L-10,258"/><path d="M119,254L119,284"/><path d="M117,254L85,355"/><path d="M125,253L178,326"/><path d="M128,249L217,322L217,345"/><path d="M130,248L236,322L242,372"/><path d="M214,250L127,293"/><path d="M215,250L89,362"/><path d="M220,254L188,326"/><path d="M230,254L253,286"/><path d="M226,255L244,372"/><path d="M82,380L82,406"/><path d="M127,367L175,392"/><path d="M217,368L217,406"/><path d="M218,426L221,460"/><path d="M207,416L133,416"/><path d="M123,425L125,433L134,440"/><path d="M183,405L183,449"/><path d="M138,455L127,481"/><path d="M147,455L156,481"/><path d="M133,500L153,522"/><path d="M160,502L160,520"/><path d="M259,310L259,331"/><path d="M308,349L308,371"/><path d="M308,393L308,414"/><path d="M425,190L296,238"/><path d="M428,192L411,214"/><path d="M436,192L445,214"/><path d="M440,190L531,238"/><path d="M285,56L285,66"/><path d="M285,87L285,104"/><path d="M292,149L305,130L305,100L322,82"/><path d="M323,254L323,284"/><path d="M363,252L363,284"/><path d="M363,310L363,344"/><path d="M393,328L371,347"/><path d="M363,364L363,385"/><path d="M363,405L363,488"/><path d="M339,564L339,552"/><path d="M302,588L288,581L84,581"/><path d="M135,629L90,629"/><path d="M455,377L455,348"/><path d="M455,328L455,281"/><path d="M505,254L505,284"/><path d="M542,254L542,283"/><path d="M505,310L505,336"/><path d="M511,309L536,336"/><path d="M538,309L513,337"/><path d="M542,309L542,336"/><path d="M510,353L533,380"/><path d="M590,397L600,482"/><path d="M632,346L632,372"/><path d="M719,526L746,560"/><path d="M753,527L753,559"/><path d="M788,526L760,560"/><path d="M768,569L806,569"/><path d="M753,580L753,598"/><path d="M816,580L816,599"/><path d="M879,254L879,283"/><path d="M879,374L879,400"/><path d="M882,417L902,479"/><path d="M1008,470L1008,508"/><path d="M379,677L378,692"/><path d="M413,677L413,692"/><path d="M382,767L423,802"/><path d="M417,767L428,800"/><path d="M427,817L407,846"/><path d="M369,667L352,667"/><path d="M578,579L447,579L436,590"/><path d="M305,926L262,926"/><path d="M135,936L135,962"/><path d="M197,936L197,962"/><path d="M197,982L197,1012"/><path d="M250,936L250,962"/><path d="M314,936L314,962"/><path d="M314,1022L314,1040"/><path d="M400,866L400,916"/><path d="M507,936L507,963"/><path d="M603,936L603,992"/><path d="M722,666L722,693"/><path d="M862,664L862,692"/><path d="M916,664L916,692"/><path d="M910,716L895,730"/><path d="M916,718L916,744"/><path d="M874,925L893,925"/><path d="M713,957L695,957"/><path d="M713,981L696,981L686,966"/><path d="M711,1004L696,1004"/><path d="M713,1026L696,1026"/><path d="M714,1049L696,1049L686,1062"/><path d="M711,1073L694,1073"/><path d="M866,966L843,995"/><path d="M866,987L844,998"/><path d="M862,1004L846,1004"/><path d="M866,1021L844,1010"/><path d="M868,1045L842,1012"/><path d="M870,1068L840,1014"/><path d="M900,958L910,957"/><path d="M906,978L915,966"/><path d="M900,1004L910,1004"/><path d="M902,1030L912,1030"/><path d="M907,1058L916,1071"/><path d="M900,1079L910,1079"/><path d="M965,664L965,693"/><path d="M1022,664L1022,693"/><path d="M1053,664L1053,693"/><path d="M1090,664L1090,693"/><path d="M1040,772L1007,772"/><path d="M1053,780L1053,796"/><path d="M1093,780L1119,845"/><path d="M1123,780L1123,845"/><path d="M1123,865L1123,927"/></g>
<g class="el"><path d="M202,32L202,88"/><path d="M231,65L231,88"/><path d="M119,310L118,352"/><path d="M92,416L113,416"/><path d="M125,447L76,447L76,520"/><path d="M273,499L300,499"/><path d="M645,336L690,336"/><path d="M321,932L356,968"/><path d="M932,401L1000,411"/><path d="M847,925L867,925"/><path d="M884,958L894,958"/><path d="M884,980L900,980"/><path d="M884,1004L894,1004"/><path d="M884,1030L895,1030"/><path d="M884,1055L901,1055"/><path d="M884,1079L894,1079"/></g>
<g class="ed"><path d="M28,293L28,367L74,367"/><path d="M125,370L214,462"/><path d="M175,345L142,380L142,437"/><path d="M184,346L184,390"/><path d="M191,345L200,360L200,440L217,462"/><path d="M259,350L259,413L236,462"/><path d="M82,426L82,470L210,470"/><path d="M123,501L123,518"/><path d="M150,502L130,522"/><path d="M85,529L110,529"/><path d="M299,428L235,465"/><path d="M339,443L339,445L290,445L234,467"/><path d="M339,352L339,416"/><path d="M318,309L311,332"/><path d="M328,309L336,330"/><path d="M285,125L285,148"/><path d="M330,88L330,112"/><path d="M879,310L879,356"/><path d="M885,309L918,388"/><path d="M840,366L866,366"/><path d="M1008,424L1008,450"/><path d="M165,843L165,896"/><path d="M314,982L314,1002"/><path d="M378,717L378,749"/><path d="M413,717L413,749"/><path d="M581,718L581,760"/><path d="M600,935L587,968"/><path d="M722,717L722,750"/><path d="M729,714L757,730L757,772"/><path d="M862,718L862,797"/><path d="M910,762L897,777"/><path d="M916,764L916,797"/><path d="M836,850L836,839L851,839"/><path d="M836,858L836,915"/><path d="M836,936L836,993"/><path d="M965,717L965,740L985,763"/><path d="M993,718L993,762"/><path d="M1025,717L1049,763"/><path d="M1053,717L1053,763"/><path d="M1088,717L1078,750L1012,750L1000,763"/><path d="M1090,717L1090,763"/><path d="M1094,717L1118,763"/></g>
<g class="bl"><path d="M285,164L285,234"/><path d="M285,254L285,284"/><path d="M297,156L345,156"/><path d="M571,254L571,283"/><path d="M571,310L571,346L553,346"/><path d="M542,357L542,378"/><path d="M285,350L285,414L232,464"/><path d="M186,467L205,557"/><path d="M217,478L172,556"/><path d="M220,478L207,557"/><path d="M222,479L222,619"/><path d="M226,478L246,556"/><path d="M232,477L301,587"/><path d="M233,474L254,492"/><path d="M233,467L288,453L442,453L479,432"/><path d="M235,468L430,468L430,587"/><path d="M232,475L534,593"/><path d="M320,498L353,498"/><path d="M373,498L387,498"/><path d="M354,503L320,520"/><path d="M363,506L363,517"/><path d="M308,537L308,587"/><path d="M363,537L363,587"/><path d="M363,607L363,628"/><path d="M330,548L311,560"/><path d="M348,548L362,560"/><path d="M302,607L272,632"/><path d="M305,607L285,656"/><path d="M313,607L336,657"/><path d="M253,576L262,588"/><path d="M207,577L218,619"/><path d="M155,566L126,566"/><path d="M212,625L127,600"/><path d="M214,636L160,657"/><path d="M218,639L196,675"/><path d="M222,639L222,693"/><path d="M214,772L145,824"/><path d="M217,780L175,823"/><path d="M222,775L203,823"/><path d="M228,774L255,823"/><path d="M135,843L135,916"/><path d="M197,843L197,916"/><path d="M261,843L252,916"/><path d="M268,843L310,917"/><path d="M314,866L314,916"/><path d="M476,866L459,917"/><path d="M421,813L326,852"/><path d="M423,814L352,850"/><path d="M425,815L380,848"/><path d="M429,817L426,845"/><path d="M433,817L445,846"/><path d="M436,816L470,846"/><path d="M440,814L497,850"/><path d="M460,607L441,692"/><path d="M462,607L462,692"/><path d="M470,607L550,693"/><path d="M489,608L489,692"/><path d="M497,608L601,693"/><path d="M540,607L495,692"/><path d="M550,607L606,693"/><path d="M499,602L803,694"/><path d="M555,602L803,697"/><path d="M495,431L540,482"/><path d="M500,424L647,424"/><path d="M667,424L685,424"/><path d="M703,424L721,424"/><path d="M736,447L720,466"/><path d="M753,455L753,466"/><path d="M770,447L786,464"/><path d="M714,483L714,506"/><path d="M753,483L753,506"/><path d="M794,484L794,506"/><path d="M484,432L434,587"/><path d="M487,433L464,587"/><path d="M489,433L489,588"/><path d="M493,433L541,587"/><path d="M496,431L548,533"/><path d="M535,394L496,418"/><path d="M466,387L530,387"/><path d="M430,607L430,626"/><path d="M578,780L559,841"/><path d="M554,862L554,896"/><path d="M804,810L852,832"/><path d="M826,812L826,825L838,825L852,835"/><path d="M862,813L862,829"/><path d="M891,797L891,825L873,833"/><path d="M862,849L862,868"/><path d="M916,813L916,829"/><path d="M916,849L916,869"/><path d="M873,416L835,479"/><path d="M876,417L857,479"/><path d="M879,417L879,479"/><path d="M886,415L924,479"/><path d="M838,499L872,524"/><path d="M858,499L875,522"/><path d="M879,499L879,520"/><path d="M900,499L884,522"/><path d="M922,499L888,524"/><path d="M987,781L968,845"/><path d="M992,781L993,845"/><path d="M998,781L1020,845"/><path d="M1004,780L1056,845"/><path d="M1008,778L1084,845"/><path d="M1062,865L1062,927"/></g>
<g class="bd"><path d="M285,310L285,332"/><path d="M242,391L233,461"/><path d="M399,510L399,560"/><path d="M298,597L277,597"/><path d="M298,603L233,624"/><path d="M232,622L257,603"/><path d="M308,607L308,675"/><path d="M215,637L151,682"/><path d="M228,639L246,672"/><path d="M222,733L222,757"/><path d="M438,717L434,800"/><path d="M462,717L436,800"/><path d="M489,718L437,801"/><path d="M558,718L576,761"/><path d="M604,718L586,761"/><path d="M811,718L793,796"/><path d="M817,718L826,736L826,796"/><path d="M500,415L510,414L607,414L607,358L622,342"/><path d="M845,409L866,409"/><path d="M964,865L964,927"/><path d="M998,865L1021,925"/><path d="M1026,865L1026,925"/><path d="M1056,865L1032,925"/></g>
<g class="bt"><path d="M585,396L555,478"/><path d="M231,843L247,913"/></g>
<g class="or"><path d="M587,397L575,482"/><path d="M608,396L630,407L630,482"/><path d="M587,378L587,312L620,312L625,305"/><path d="M603,861L603,916"/><path d="M630,917L630,958"/><path d="M717,809L707,830"/><path d="M726,809L734,830"/><path d="M707,848L755,915"/><path d="M746,850L787,915"/><path d="M761,932L761,1111"/><path d="M793,936L793,1110"/><path d="M756,1128L745,1147"/><path d="M766,1128L778,1147"/><path d="M798,1130L815,1148"/><path d="M735,957L745,948L792,948"/><path d="M733,957L760,956"/><path d="M733,978L745,972L792,972"/><path d="M733,981L760,980"/><path d="M733,1001L745,996L792,996"/><path d="M733,1004L760,1004"/><path d="M733,1022L745,1018L792,1018"/><path d="M733,1026L760,1024"/><path d="M733,1045L745,1041L792,1041"/><path d="M733,1049L760,1049"/><path d="M733,1070L745,1066L792,1066"/><path d="M733,1073L760,1072"/></g>
<g class="ot"><path d="M212,629L160,629"/><path d="M223,780L226,818"/><path d="M484,866L503,915"/><path d="M585,778L600,836"/><path d="M722,770L722,786"/></g>
<g class="od"><path d="M607,861L624,897"/><path d="M601,861L577,1022"/><path d="M293,150L320,128"/></g>
<g class="ye"><path d="M632,305L632,326"/><path d="M548,352L579,380"/></g>
<g class="xx"><path d="M867,922l6,6m0,-6l-6,6"/><path d="M894,955l6,6m0,-6l-6,6"/><path d="M900,977l6,6m0,-6l-6,6"/><path d="M894,1001l6,6m0,-6l-6,6"/><path d="M895,1027l6,6m0,-6l-6,6"/><path d="M901,1052l6,6m0,-6l-6,6"/><path d="M894,1076l6,6m0,-6l-6,6"/></g>
</g>
<g id="d-nodes">
<g id="d-gp"><text x="39.5" y="10">Gram+</text><text x="39.5" y="19">Bacteria</text></g>
<g id="d-gn"><text x="106" y="10">Gram-</text><text x="106" y="19">Bacteria</text></g>
<g id="d-strep" class="w" transform="translate(38,55)"><use href="#oc"/><text y="-4.3">Streptococcus<tspan x="0" dy="8.7">pyogenes</tspan></text></g>
<g id="d-staph" class="w" transform="translate(38,84)"><use href="#oc"/><text y="-4.3">Staphylococcus<tspan x="0" dy="8.7">aureus</tspan></text></g>
<g id="d-yers" class="w" transform="translate(105,42)"><use href="#oc"/><text y="-4.3">Yersinia<tspan x="0" dy="8.7">pestis</tspan></text></g>
<g id="d-fran" class="w" transform="translate(106,69)"><use href="#oc"/><text y="-4.3">Francisella<tspan x="0" dy="8.7">tularensis</tspan></text></g>
<g id="d-kleb" class="w" transform="translate(106,97)"><use href="#oc"/><text y="-4.3">Klebsiella<tspan x="0" dy="8.7">pneumoniae</tspan></text></g>
<g id="d-role" transform="translate(202,22)"><text y="-8.7">Role of Hypercytokinemia/<tspan x="0" dy="8.7">hyperchemokinemia in the</tspan><tspan x="0" dy="8.7">pathogenesis of Influenza</tspan></text></g>
<g id="d-corona" class="w" transform="translate(231,57)"><use href="#oc"/><text y="-8.7">Coronavirus<tspan x="0" dy="8.7">Pathogenesis</tspan><tspan x="0" dy="8.7">Pathway</tspan></text></g>
<g id="d-ebola" class="w" transform="translate(173,97)"><use href="#oc"/><text y="-4.3">Ebola<tspan x="0" dy="8.7">virus</tspan></text></g>
<g id="d-flu" class="w" transform="translate(202,97)"><use href="#oc"/><text y="-4.3">Influenza<tspan x="0" dy="8.7">A virus</tspan></text></g>
<g id="d-sars" class="w" transform="translate(231,97)"><use href="#oc"/><text y="-4.3">SARS<tspan x="0" dy="8.7">CoV</tspan></text></g>
<g id="d-infection" class="w" transform="translate(166,196)"><use href="#nr"/><text>Infection</text></g>
<g id="d-ebv" class="w" transform="translate(285,46)"><use href="#oc"/><text>EBV</text></g>
<g id="d-lmp1" class="w" transform="translate(285,77)"><use href="#ci"/><text>LMP1</text></g>
<g id="d-tnfr1" class="g" transform="translate(330,76)"><use href="#rd"/><text y="-4.3">Tnf<tspan x="0" dy="8.7">receptor</tspan></text></g>
<g id="d-tradd" class="g" transform="translate(285,115)"><use href="#ci"/><text>TRADD</text></g>
<g id="d-tap" class="o2" transform="translate(330,122)"><use href="#cx"/><text y="-4.3">T cell<tspan x="0" dy="8.7">apoptosis</tspan></text></g>
<g id="d-nfkb1" class="b3" transform="translate(285,156)"><use href="#vd"/><text>NFkB</text></g>
<g id="d-ebvh" class="b2" transform="translate(353,156)"><use href="#cx"/><text y="-8.7">Epstein-Barr virus-<tspan x="0" dy="8.7">induced haemophagocytic</tspan><tspan x="0" dy="8.7">lymphohistiocytosis</tspan></text></g>
<text x="394" y="87">T cell</text>
<g id="d-jra" class="w" transform="translate(432,184)"><use href="#cx"/><text y="-4.3">Systemic<tspan x="0" dy="8.7">JRA</tspan></text></g>
<g id="d-il1t" class="g" transform="translate(404,225)"><use href="#sd"/><text>IL1</text></g>
<g id="d-il18t" class="g" transform="translate(450,225)"><use href="#sq"/><text>IL18</text></g>
<g id="d-tnft" class="m" transform="translate(285,244)"><use href="#sq"/><text>TNF</text></g>
<g id="d-csf2" class="g" transform="translate(323,244)"><use href="#sq"/><text>CSF2</text></g>
<g id="d-ca" class="w" transform="translate(363,244)"><use href="#oc" transform="scale(.7)"/><text>CA</text></g>
<g id="d-ifnt" class="g" transform="translate(505,244)"><use href="#sd"/><text y="-4.3">Ifn<tspan x="0" dy="8.7">gamma</tspan></text></g>
<g id="d-il6t" class="g" transform="translate(542,244)"><use href="#sq"/><text>IL6</text></g>
<g id="d-cxcl8t" class="m" transform="translate(571,244)"><use href="#sq"/><text>CXCL8</text></g>
<g id="d-ptc" class="w" transform="translate(28,244)"><use href="#cx"/><text y="-8.7">Pyroptosis<tspan x="0" dy="8.7">of tumor</tspan><tspan x="0" dy="8.7">cell lines</tspan></text></g>
<text x="-24" y="258" id="d-crsl">Cytokine<tspan x="-24" dy="8.7">release</tspan><tspan x="-24" dy="8.7">syndrome</tspan></text>
<g id="d-damp" class="w" transform="translate(119,244)"><use href="#cd"/><text>DAMP</text></g>
<g id="d-pamp" class="w" transform="translate(224,244)"><use href="#ci"/><text>PAMP</text></g>
<g id="d-dsdna" class="w" transform="translate(28,283)"><use href="#ci"/><text>dsDNA</text></g>
<g id="d-tlr" class="g" transform="translate(119,297)"><use href="#rd"/><text>TLR</text></g>
<g id="d-clec" class="g" transform="translate(259,297)"><use href="#re"/><text>CLEC7A</text></g>
<g id="d-tnfr2" class="b3" transform="translate(285,297)"><use href="#re"/><text y="-4.3">Tnf<tspan x="0" dy="8.7">receptor</tspan></text></g>
<g id="d-csf2r" class="g" transform="translate(323,297)"><use href="#rd"/><text>CSF2R</text></g>
<g id="d-adra" class="w" transform="translate(363,297)"><use href="#nr"/><text>ADRA1A</text></g>
<g id="d-hemo" class="w" transform="translate(455,271)"><use href="#gr"/><text>Hemophagocytosis</text></g>
<g id="d-ifngr" class="g" transform="translate(505,297)"><use href="#rd"/><text>IFNGR</text></g>
<g id="d-il6r" class="g" transform="translate(542,296)"><use href="#re"/><text>IL6R</text></g>
<g id="d-il8r" class="b3" transform="translate(571,297)"><use href="#rd"/><text y="-4.3">Il8<tspan x="0" dy="8.7">Receptor</tspan></text></g>
<text x="57" y="348">Endosome</text>
<g id="d-tlr2" class="g" transform="translate(82,367)"><use href="#rd"/><text>TLR</text></g>
<g id="d-myd" class="g" transform="translate(118,362)"><use href="#ci"/><text>MYD88</text></g>
<g id="d-rlr" class="g" transform="translate(184,336)"><use href="#cd"/><text>RLR</text></g>
<g id="d-cgas" class="g" transform="translate(217,358)"><use href="#di"/><text>CGAS</text></g>
<g id="d-nlr" class="m" transform="translate(244,382)"><use href="#cd"/><text>NLR</text></g>
<g id="d-syk" class="g" transform="translate(259,341)"><use href="#tr"/><text>SYK</text></g>
<g id="d-ripk1" class="b2" transform="translate(285,341)"><use href="#tr"/><text>RIPK1</text></g>
<g id="d-myc" class="g" transform="translate(308,341)"><use href="#ov"/><text>MYC</text></g>
<g id="d-hmg" class="g" transform="translate(339,341)"><use href="#di"/><text>HMGCR</text></g>
<g id="d-ds2" class="w" transform="translate(400,320)"><use href="#ci"/><text>dsDNA</text></g>
<g id="d-aim2" class="w" transform="translate(363,354)"><use href="#ci"/><text>AIM2</text></g>
<g id="d-glut" class="g" transform="translate(308,382)"><use href="#sx"/><text y="-4.3">Glucose<tspan x="0" dy="8.7">transporter</tspan></text></g>
<g id="d-aimi" class="w" transform="translate(363,398)"><use href="#ci"/><text y="-4.3">AIM2<tspan x="0" dy="8.7">Inflammasome</tspan></text></g>
<g id="d-rbc" class="w" transform="translate(455,338)"><use href="#cx"/><text y="-4.3">RBC<tspan x="0" dy="8.7">elimination</tspan></text></g>
<g id="d-macp" class="b3" transform="translate(455,387)"><use href="#gr"/><text>Macropinocytosis</text></g>
<g id="d-jak1" class="g" transform="translate(505,347)"><use href="#tr"/><text>JAK1</text></g>
<g id="d-jak2" class="b2" transform="translate(542,346)"><use href="#tr"/><text>JAK2</text></g>
<g id="d-stat1" class="b3" transform="translate(542,387)"><use href="#ov"/><text>STAT1</text></g>
<g id="d-p2" class="w" transform="translate(533,375)"><circle r="3" stroke="#888" stroke-width=".6"/><text style="font-size:5px">P</text></g>
<g id="d-stat3" class="o2" transform="translate(587,387)"><use href="#ov"/><text>STAT3</text></g>
<g id="d-mapk" class="g" transform="translate(183,397)"><use href="#tr"/><text>MAPK</text></g>
<g id="d-cd163" class="o2" transform="translate(632,295)"><use href="#ci"/><text>CD163</text></g>
<g id="d-hemo2" class="b3" transform="translate(632,336)"><use href="#gr"/><text>Hemophagocytosis</text></g>
<g id="d-hyper" class="w" transform="translate(706,336)"><use href="#cx"/><text>Hyperferritinemia</text></g>
<g id="d-anem" class="w" transform="translate(632,382)"><use href="#cx"/><text>Anemia</text></g>
<g id="d-ifnb" class="g" transform="translate(879,244)"><use href="#sd"/><text y="-4.3">Interferon<tspan x="0" dy="8.7">beta</tspan></text></g>
<g id="d-ifnar" class="g" transform="translate(879,297)"><use href="#rd"/><text>IFNAR</text></g>
<text x="934" y="311">Macrophage</text>
<g id="d-stat1b" class="g" transform="translate(879,366)"><use href="#ov"/><text>STAT1</text></g>
<g id="d-p1" class="w" transform="translate(869,355)"><circle r="3" stroke="#888" stroke-width=".6"/><text style="font-size:5px">P</text></g>
<g id="d-chem" class="w" transform="translate(826,366)"><use href="#gr"/><text>Chemotaxis</text></g>
<g id="d-tnfsf" class="g" transform="translate(922,399)"><use href="#sq"/><text>TNFSF10</text></g>
<g id="d-ticam" class="g" transform="translate(82,416)"><use href="#ci"/><text>TICAM1</text></g>
<g id="d-tbk" class="g" transform="translate(123,416)"><use href="#tr"/><text>TBK1</text></g>
<g id="d-sting" class="g" transform="translate(217,416)"><use href="#ci"/><text>STING1</text></g>
<g id="d-irf37" class="g" transform="translate(142,447)"><use href="#vd" transform="scale(1.4,1)"/><text>IRF3-IRF7</text></g>
<g id="d-ap1" class="m" transform="translate(183,458)"><use href="#vd"/><text>AP1</text></g>
<g id="d-nfkb" class="b3" transform="translate(222,470)"><use href="#vd"/><text>NFkB</text></g>
<g id="d-ifnbm" class="g" transform="translate(123,491)"><use href="#sq"/><text y="-4.3">Interferon<tspan x="0" dy="8.7">beta</tspan></text></g>
<g id="d-ifna" class="w" transform="translate(160,492)"><use href="#sq"/><text y="-4.3">Interferon<tspan x="0" dy="8.7">alpha</tspan></text></g>
<g id="d-nlrp3" class="b2" transform="translate(263,499)"><use href="#ci"/><text>NLRP3</text></g>
<g id="d-infl" class="b0" transform="translate(310,498)"><use href="#ci"/><text y="-13">Inflammasome<tspan x="0" dy="8.7">(Nalp3,</tspan><tspan x="0" dy="8.7">Asc,</tspan><tspan x="0" dy="8.7">Casp1)</tspan></text></g>
<g id="d-casp1" class="b0" transform="translate(363,498)"><use href="#dw"/><text>CASP1</text></g>
<g id="d-gsdmd" class="b0" transform="translate(399,498)"><use href="#ci"/><text>GSDMD</text></g>
<g id="d-il1m" class="b2" transform="translate(308,527)"><use href="#sd"/><text>IL1</text></g>
<g id="d-il18m" class="b0" transform="translate(363,527)"><use href="#sq"/><text>IL18</text></g>
<g id="d-anti" class="w" transform="translate(123,529)"><use href="#cx"/><text y="-8.7">Antiviral<tspan x="0" dy="8.7">response</tspan><tspan x="0" dy="8.7">of cells</tspan></text></g>
<g id="d-viral" class="w" transform="translate(76,529)"><use href="#cx"/><text y="-4.3">Viral<tspan x="0" dy="8.7">infection</tspan></text></g>
<g id="d-ifns" class="w" transform="translate(160,528)"><use href="#hg"/><text y="-4.3">Interferon<tspan x="0" dy="8.7">signaling</tspan></text></g>
<g id="d-p2rx" class="g" transform="translate(339,542)"><use href="#sq"/><text>P2RX7</text></g>
<g id="d-glyc" class="w" transform="translate(308,424)"><use href="#gr"/><text>Glycolysis</text></g>
<g id="d-lipid" class="w" transform="translate(339,425)"><use href="#gr"/><text y="-4.3">Lipid<tspan x="0" dy="8.7">metabolism</tspan></text></g>
<g id="d-irf1" class="b3" transform="translate(489,424)"><use href="#vd"/><text>IRF1</text></g>
<g id="d-tnfm" class="m" transform="translate(549,492)"><use href="#sq"/><text>TNF</text></g>
<g id="d-il6m" class="o2" transform="translate(573,492)"><use href="#sq"/><text>IL6</text></g>
<g id="d-il23m" class="g" transform="translate(602,492)"><use href="#sd"/><text>IL23</text></g>
<g id="d-il1o" class="o2" transform="translate(630,492)"><use href="#sd"/><text>IL1</text></g>
<g id="d-mhc" class="b3" transform="translate(551,546)"><use href="#rd"/><text y="-4.3">MHC<tspan x="0" dy="8.7">II</tspan></text></g>
<g id="d-il10" class="b3" transform="translate(165,566)"><use href="#sq"/><text>IL10</text></g>
<g id="d-il10s" class="b1" transform="translate(115,566)"><use href="#hg"/><text y="-4.3">IL-10<tspan x="0" dy="8.7">signaling</tspan></text></g>
<g id="d-cx8" class="m" transform="translate(204,567)"><use href="#sq"/><text>CXCL8</text></g>
<g id="d-tnfo" class="m" transform="translate(250,566)"><use href="#sq"/><text>TNF</text></g>
<g id="d-il1s" class="w" transform="translate(77,581)"><use href="#hg"/><text y="-4.3">IL-1<tspan x="0" dy="8.7">signaling</tspan></text></g>
<g id="d-il6s" class="b2" transform="translate(115,597)"><use href="#hg"/><text y="-4.3">IL-6<tspan x="0" dy="8.7">signaling</tspan></text></g>
<g id="d-fever" class="b3" transform="translate(266,597)"><use href="#gr"/><text>Fever</text></g>
<g id="d-il1o2" class="b3" transform="translate(308,597)"><use href="#sd"/><text>IL1</text></g>
<g id="d-atp" class="w" transform="translate(339,572)"><use href="#oc" transform="scale(.7)"/><text>ATP</text></g>
<g id="d-pyro" class="b0" transform="translate(399,571)"><use href="#gr"/><text>Pyroptosis</text></g>
<g id="d-il18o" class="b0" transform="translate(363,597)"><use href="#sq"/><text>IL18</text></g>
<g id="d-mas" class="b0" transform="translate(363,637)"><use href="#cx"/><text>MAS</text></g>
<g id="d-il12o" class="b3" transform="translate(430,597)"><use href="#sd"/><text>IL12</text></g>
<g id="d-ccl5" class="b2" transform="translate(462,597)"><use href="#sq"/><text>CCL5</text></g>
<g id="d-cxcl9" class="b2" transform="translate(489,598)"><use href="#sq"/><text>CXCL9</text></g>
<g id="d-cxcl10" class="b3" transform="translate(545,597)"><use href="#sq"/><text>CXCL10</text></g>
<text x="607" y="570.5">IL-12 Signaling</text><text x="607" y="579">and Production</text><text x="607" y="587.5">in Macrophages</text>
<g id="d-il6" class="b3" transform="translate(222,629)"><use href="#sq"/><text>IL6</text></g>
<g id="d-ntreg" class="o2" transform="translate(145,629)"><use href="#gr"/><text y="-4.3">nTreg<tspan x="0" dy="8.7">development</tspan></text></g>
<g id="d-antii" class="w" transform="translate(78,629)"><use href="#gr"/><text y="-4.3">Anti-inflammatory<tspan x="0" dy="8.7">response</tspan></text></g>
<g id="d-maca" class="b2" transform="translate(265,640)"><use href="#cx"/><text y="-4.3">Macrophage<tspan x="0" dy="8.7">activation</tspan></text></g>
<g id="d-adap" class="b2" transform="translate(146,661)"><use href="#cx"/><text y="-4.3">Adaptive immune<tspan x="0" dy="8.7">response of T cells</tspan></text></g>
<g id="d-crs" class="b2" transform="translate(143,689)"><use href="#cx"/><text>CRS</text></g>
<g id="d-macm" class="b2" transform="translate(189,683)"><use href="#cx"/><text y="-4.3">Macrophage<tspan x="0" dy="8.7">maturation</tspan></text></g>
<g id="d-jia" class="b2" transform="translate(281,666)"><use href="#cx"/><text y="-4.3">Systemic<tspan x="0" dy="8.7">JIA</tspan></text></g>
<g id="d-dic" class="b2" transform="translate(250,683)"><use href="#cx"/><text y="-4.3">DIC<tspan x="0" dy="8.7">syndrome</tspan></text></g>
<g id="d-neur" class="b2" transform="translate(309,685)"><use href="#cx"/><text y="-4.3">Neurotoxicity<tspan x="0" dy="8.7">of neuron</tspan></text></g>
<g id="d-th17a" class="b2" transform="translate(340,667)"><use href="#cx"/><text y="-4.3">Th17 cell<tspan x="0" dy="8.7">activation</tspan></text></g>
<g id="d-il12g" class="g" transform="translate(379,667)"><use href="#sd"/><text>IL12</text></g>
<g id="d-ifng" class="g" transform="translate(413,667)"><use href="#sd"/><text y="-4.3">Ifn<tspan x="0" dy="8.7">gamma</tspan></text></g>
<g id="d-th1d" class="b2" transform="translate(430,636)"><use href="#cx"/><text y="-4.3">Th1 cell<tspan x="0" dy="8.7">differentiation</tspan></text></g>
<g id="d-cplx" class="b2" transform="translate(222,713)"><circle r="19" stroke="#aaa"/><circle cx="-2" r="16" fill="none" stroke="#eef"/><text x="8" y="-13">IL6R<tspan x="8" dy="8.7">soluble</tspan></text><text x="-7" y="6">IL6ST</text></g>
<g id="d-il12r" class="g" transform="translate(378,705)"><use href="#rd"/><text>IL12R</text></g>
<g id="d-ifngr2" class="g" transform="translate(413,705)"><use href="#rd"/><text>IFNGR</text></g>
<g id="d-ccr1" class="b2" transform="translate(438,705)"><use href="#re"/><text>CCR1</text></g>
<g id="d-ccr5" class="b2" transform="translate(462,705)"><use href="#re"/><text>CCR5</text></g>
<g id="d-cxcr3a" class="b3" transform="translate(489,705)"><use href="#ta"/><text>CXCR3</text></g>
<g id="d-ccr3" class="b2" transform="translate(555,706)"><use href="#re"/><text>CCR3</text></g>
<g id="d-ccr6a" class="g" transform="translate(581,706)"><use href="#re"/><text>CCR6</text></g>
<g id="d-cxcr3b" class="b3" transform="translate(608,706)"><use href="#ta"/><text>CXCR3</text></g>
<text x="141" y="719">Endothelial</text><text x="141" y="728">cell</text><text x="316" y="722">Th1</text><text x="316" y="731">cell</text><text x="636" y="721">Th9</text><text x="636" y="730">cell</text><text x="683" y="718">Cytotoxic</text><text x="683" y="727">T cell/</text><text x="683" y="736">NK cell</text><text x="1125" y="721">Th17</text><text x="1125" y="730">cell</text><text x="1050" y="423">AEC</text><text x="1050" y="432">cells</text>
<g id="d-tnfrsf" class="w" transform="translate(1008,411)"><use href="#re"/><text>TNFRSF10B</text></g>
<g id="d-apopn" class="w" transform="translate(1008,460)"><use href="#cx"/><text y="-4.3">Apoptosis of<tspan x="0" dy="8.7">pneumocytes</tspan></text></g>
<g id="d-lung" class="w" transform="translate(1008,518)"><use href="#cx"/><text y="-4.3">Lung<tspan x="0" dy="8.7">injury</tspan></text></g>
<g id="d-nos2" class="b2" transform="translate(657,424)"><use href="#di"/><text>NOS2</text></g>
<g id="d-no" class="b2" transform="translate(694,424)"><rect x="-7" y="-6" width="14" height="12" rx="5" stroke="#aaa"/><text>NO</text></g>
<g id="d-rcx" class="b0" transform="translate(753,424)"><circle r="31" stroke="#aaa"/><circle r="28.5" fill="none" stroke="#aaa" stroke-width=".7"/></g>
<g id="d-ripk3" class="b0" transform="translate(742,414)"><use href="#tr"/><text>RIPK3</text></g>
<g id="d-casp8" class="b0" transform="translate(768,413)"><use href="#di"/><text>CASP8</text></g>
<g id="d-ripk1c" class="b0" transform="translate(740,436)"><use href="#tr"/><text>RIPK1</text></g>
<g id="d-fadd" class="b0" transform="translate(767,433)"><use href="#ci"/><text>FADD</text></g>
<g id="d-gsdme" class="b0" transform="translate(714,474)"><use href="#dw"/><text>GSDME</text></g>
<g id="d-casp37" class="b0" transform="translate(753,474)"><use href="#dw"/><text y="-4.3">Caspase<tspan x="0" dy="8.7">3/7</tspan></text></g>
<g id="d-mlkl" class="b0" transform="translate(794,474)"><use href="#tr"/><text>MLKL</text></g>
<g id="d-pyr2" class="b0" transform="translate(714,517)"><use href="#gr"/><text>Pyroptosis</text></g>
<g id="d-apop" class="b0" transform="translate(753,517)"><use href="#gr"/><text>Apoptosis</text></g>
<g id="d-necr" class="b0" transform="translate(794,517)"><use href="#gr"/><text>Necroptosis</text></g>
<g id="d-pano" class="w" transform="translate(753,569)"><use href="#gr"/><text>Panoptosis</text></g>
<g id="d-crs2" class="w" transform="translate(816,569)"><use href="#cx"/><text>CRS</text></g>
<g id="d-damp2" class="w" transform="translate(753,609)"><use href="#cd"/><text>DAMP</text></g>
<g id="d-sepsis" class="w" transform="translate(816,609)"><use href="#cx"/><text>Sepsis</text></g>
<g id="d-antiv" class="b2" transform="translate(826,409)"><use href="#gr"/><text y="-8.7">Antiviral<tspan x="0" dy="8.7">response</tspan><tspan x="0" dy="8.7">of cells</tspan></text></g>
<g id="d-irf9" class="b3" transform="translate(879,409)"><use href="#vd"/><text>IRF9</text></g>
<g id="d-ifng2" class="b2" transform="translate(827,489)"><use href="#sd"/><text y="-4.3">Ifn<tspan x="0" dy="8.7">gamma</tspan></text></g>
<g id="d-il12b" class="b2" transform="translate(853,489)"><use href="#sd"/><text>IL12</text></g>
<g id="d-cx8b" class="m" transform="translate(879,489)"><use href="#sq"/><text>CXCL8</text></g>
<g id="d-tnfb" class="m" transform="translate(905,489)"><use href="#sq"/><text>TNF</text></g>
<g id="d-il6b" class="b2" transform="translate(930,489)"><use href="#sq"/><text>IL6</text></g>
<g id="d-proi" class="b3" transform="translate(880,530)"><use href="#cx"/><text y="-4.3">Proinflammatory<tspan x="0" dy="8.7">response</tspan></text></g>
<g id="d-il6c" class="g" transform="translate(722,656)"><use href="#sq"/><text>IL6</text></g>
<g id="d-il12c" class="g" transform="translate(862,654)"><use href="#sd"/><text>IL12</text></g>
<g id="d-il18c" class="g" transform="translate(916,654)"><use href="#sq"/><text>IL18</text></g>
<g id="d-ccl5c" class="g" transform="translate(965,654)"><use href="#sq"/><text>CCL5</text></g>
<g id="d-il21c" class="g" transform="translate(1022,654)"><use href="#sq"/><text>IL21</text></g>
<g id="d-il6d" class="g" transform="translate(1053,654)"><use href="#sq"/><text>IL6</text></g>
<g id="d-il23c" class="g" transform="translate(1090,654)"><use href="#sd"/><text>IL23</text></g>
<g id="d-il6rc" class="g" transform="translate(722,705)"><use href="#re"/><text>IL6R</text></g>
<g id="d-cxcr3c" class="b3" transform="translate(811,705)"><use href="#ta"/><text>CXCR3</text></g>
<g id="d-il12rc" class="g" transform="translate(862,705)"><use href="#rd"/><text>IL12R</text></g>
<g id="d-il18r" class="g" transform="translate(916,705)"><use href="#rd"/><text>IL18R</text></g>
<g id="d-ccr6" class="g" transform="translate(965,705)"><use href="#re"/><text>CCR6</text></g>
<g id="d-cxcr4" class="g" transform="translate(993,705)"><use href="#ta"/><text>CXCR4</text></g>
<g id="d-il21r" class="g" transform="translate(1022,705)"><use href="#re"/><text>IL21R</text></g>
<g id="d-il6rd" class="g" transform="translate(1053,705)"><use href="#re"/><text>IL6R</text></g>
<g id="d-il23r" class="g" transform="translate(1090,705)"><use href="#re"/><text>IL23R</text></g>
<g id="d-ctl" class="w" transform="translate(890,738)"><use href="#cx"/><text y="-4.3">CTL<tspan x="0" dy="8.7">expansion</tspan></text></g>
<g id="d-myd2" class="g" transform="translate(916,754)"><use href="#ci"/><text>MYD88</text></g>
<g id="d-socs3" class="m" transform="translate(722,760)"><use href="#ci"/><text>SOCS3</text></g>
<g id="d-cytr" class="w" transform="translate(757,780)"><use href="#cx"/><text y="-4.3">Cytotoxic response<tspan x="0" dy="8.7">of NK/T cells</tspan></text></g>
<g id="d-p38" class="b1" transform="translate(890,787)"><use href="#tr"/><text y="-4.3">P38<tspan x="0" dy="8.7">MAPK</tspan></text></g>
<g id="d-ror" class="b3" transform="translate(993,772)"><use href="#ov"/><text y="-4.3">ROR<tspan x="0" dy="8.7">gamma T</tspan></text></g>
<g id="d-st3t" class="g" transform="translate(1053,772)"><use href="#ov"/><text>STAT3</text></g>
<g id="d-bhl" class="g" transform="translate(1090,772)"><use href="#ov"/><text>BHLHE40</text></g>
<g id="d-prd" class="g" transform="translate(1123,772)"><use href="#ov"/><text>PRDM1</text></g>
<g id="d-st4a" class="g" transform="translate(378,757)"><use href="#ov"/><text>STAT4</text></g>
<g id="d-st1a" class="g" transform="translate(413,757)"><use href="#ov"/><text>STAT1</text></g>
<g id="d-spi1" class="b2" transform="translate(580,770)"><use href="#ov"/><text>SPI1</text></g>
<g id="d-st3e" class="b3" transform="translate(222,766)"><use href="#ov"/><text>STAT3</text></g>
<g id="d-tbx" class="b3" transform="translate(431,809)"><use href="#ov"/><text>TBX21</text></g>
<g id="d-ccl2" class="b2" transform="translate(135,833)"><use href="#sq"/><text>CCL2</text></g>
<g id="d-il6e" class="b1" transform="translate(165,833)"><use href="#sq"/><text>IL6</text></g>
<g id="d-cx8e" class="m" transform="translate(197,833)"><use href="#sq"/><text>CXCL8</text></g>
<g id="d-cdh1" class="o2" transform="translate(228,833)"><use href="#ci"/><text>CDH1</text></g>
<g id="d-vegf" class="b2" transform="translate(263,833)"><use href="#sx"/><text>VEGF</text></g>
<g id="d-tnfc" class="m" transform="translate(314,856)"><use href="#sq"/><text>TNF</text></g>
<g id="d-cxcl9c" class="b2" transform="translate(341,856)"><use href="#sq"/><text>CXCL9</text></g>
<g id="d-cxcl10c" class="b2" transform="translate(370,856)"><use href="#sq"/><text>CXCL10</text></g>
<g id="d-il2" class="g" transform="translate(400,856)"><use href="#sq"/><text>IL2</text></g>
<g id="d-il12e" class="b2" transform="translate(424,856)"><use href="#sd"/><text>IL12</text></g>
<g id="d-ccl2c" class="b2" transform="translate(452,856)"><use href="#sq"/><text>CCL2</text></g>
<g id="d-ifnc" class="b2" transform="translate(479,856)"><use href="#sd"/><text y="-4.3">Ifn<tspan x="0" dy="8.7">gamma</tspan></text></g>
<g id="d-il18e" class="b2" transform="translate(507,856)"><use href="#sq"/><text>IL18</text></g>
<g id="d-il9" class="b1" transform="translate(554,852)"><use href="#sq"/><text>IL9</text></g>
<g id="d-il10o" class="o1" transform="translate(603,851)"><use href="#sq"/><text>IL10</text></g>
<g id="d-card" class="w" transform="translate(165,906)"><use href="#cx"/><text>Cardiomyopathy</text></g>
<g id="d-mono" class="b1" transform="translate(135,926)"><use href="#cx"/><text y="-4.3">Monocyte<tspan x="0" dy="8.7">recruitment</tspan></text></g>
<g id="d-neut" class="b3" transform="translate(197,926)"><use href="#cx"/><text y="-4.3">Neutrophil<tspan x="0" dy="8.7">recruitment</tspan></text></g>
<g id="d-capi" class="b3" transform="translate(250,926)"><use href="#cx"/><text y="-4.3">Capillary<tspan x="0" dy="8.7">leakage</tspan></text></g>
<g id="d-disr" class="b3" transform="translate(314,926)"><use href="#cx"/><text y="-4.3">Disruption of<tspan x="0" dy="8.7">endothelial barrier</tspan></text></g>
<g id="d-cellc" class="w" transform="translate(399,926)"><use href="#cx"/><text y="-8.7">Cell cycle<tspan x="0" dy="8.7">progression</tspan><tspan x="0" dy="8.7">of T-cell</tspan></text></g>
<g id="d-macr" class="b1" transform="translate(455,926)"><use href="#cx"/><text y="-4.3">Macrophage<tspan x="0" dy="8.7">recruitment</tspan></text></g>
<g id="d-prol" class="o2" transform="translate(507,926)"><use href="#cx"/><text y="-8.7">Proliferation of<tspan x="0" dy="8.7">airway</tspan><tspan x="0" dy="8.7">epithelial cells</tspan></text></g>
<g id="d-mc" class="b1" transform="translate(554,906)"><use href="#cx"/><text y="-4.3">MC<tspan x="0" dy="8.7">recruitment</tspan></text></g>
<g id="d-coll" class="o1" transform="translate(630,907)"><use href="#cd"/><text>Collagen</text></g>
<g id="d-cd8" class="o1" transform="translate(603,926)"><use href="#cx"/><text y="-4.3">CD8+ T cell<tspan x="0" dy="8.7">activation</tspan></text></g>
<g id="d-devm" class="w" transform="translate(134,972)"><use href="#cx"/><text y="-4.3">Development of<tspan x="0" dy="8.7">macrophages</tspan></text></g>
<g id="d-net" class="w" transform="translate(197,972)"><use href="#cx"/><text y="-4.3">NET<tspan x="0" dy="8.7">formation</tspan></text></g>
<g id="d-puld" class="w" transform="translate(250,972)"><use href="#cx"/><text y="-4.3">Pulmonary<tspan x="0" dy="8.7">dysfunction</tspan></text></g>
<g id="d-bbb" class="w" transform="translate(314,972)"><use href="#cx"/><text y="-4.3">BBB<tspan x="0" dy="8.7">disruption</tspan></text></g>
<g id="d-pule" class="w" transform="translate(361,972)"><use href="#cx"/><text y="-4.3">Pulmonary<tspan x="0" dy="8.7">edema</tspan></text></g>
<g id="d-lungr" class="w" transform="translate(508,972)"><use href="#cx"/><text y="-4.3">Lung<tspan x="0" dy="8.7">repair</tspan></text></g>
<g id="d-post" class="o1" transform="translate(630,969)"><use href="#cx"/><text y="-8.7">Post-inflam-<tspan x="0" dy="8.7">matory lung</tspan><tspan x="0" dy="8.7">fibrosis</tspan></text></g>
<g id="d-exh" class="w" transform="translate(581,976)"><use href="#cx"/><text y="-4.3">Exhaustion<tspan x="0" dy="8.7">of T cells</tspan></text></g>
<g id="d-ifnx" class="g" transform="translate(603,1002)"><use href="#sd"/><text y="-4.3">Ifn<tspan x="0" dy="8.7">gamma</tspan></text></g>
<g id="d-reac" class="w" transform="translate(314,1012)"><use href="#cx"/><text y="-4.3">Reactive gliosis<tspan x="0" dy="8.7">of brain</tspan></text></g>
<g id="d-thro" class="w" transform="translate(197,1022)"><use href="#cx"/><text y="-4.3">Thrombus<tspan x="0" dy="8.7">formation</tspan></text></g>
<g id="d-neuro" class="w" transform="translate(314,1049)"><use href="#cx"/><text>Neuroinflammation</text></g>
<g id="d-anto" class="o1" transform="translate(576,1031)"><use href="#gr"/><text y="-4.3">Anti-inflammatory<tspan x="0" dy="8.7">response</tspan></text></g>
<text transform="translate(602,1078)" y="-21.7">IL-10 is elevated during<tspan x="0" dy="8.7">cytokine storm, shows</tspan><tspan x="0" dy="8.7">insufficient anti-</tspan><tspan x="0" dy="8.7">inflammatory effects, and</tspan><tspan x="0" dy="8.7">may also have some</tspan><tspan x="0" dy="8.7">pro-inflammatory effects.</tspan></text>
<g id="d-st5" class="o3" transform="translate(721,802)"><use href="#vd"/><text>STAT5</text></g>
<g id="d-tbx2" class="b2" transform="translate(794,804)"><use href="#ov"/><text>TBX21</text></g>
<g id="d-eomes" class="b2" transform="translate(826,804)"><use href="#ov"/><text>EOMES</text></g>
<g id="d-st4c" class="b1" transform="translate(862,805)"><use href="#ov"/><text>STAT4</text></g>
<g id="d-nfkc" class="b3" transform="translate(916,805)"><use href="#vd"/><text>NFkB</text></g>
<g id="d-gz1" class="o2" transform="translate(702,840)"><use href="#dw"/><text>GZMB</text></g>
<g id="d-pr1" class="o2" transform="translate(740,840)"><use href="#ci"/><text>PRF1</text></g>
<g id="d-ifnd" class="b2" transform="translate(862,839)"><use href="#sd"/><text y="-4.3">Ifn<tspan x="0" dy="8.7">gamma</tspan></text></g>
<g id="d-proc" class="m" transform="translate(916,839)"><use href="#sd"/><text y="-4.3">Pro-inflammatory<tspan x="0" dy="8.7">Cytokine</tspan></text></g>
<g id="d-pctl" class="w" transform="translate(835,858)"><text y="-4.3">Proliferation<tspan x="0" dy="8.7">of CTLs</tspan></text></g>
<g id="d-hl" class="b1" transform="translate(861,879)"><use href="#cx"/><text y="-4.3" x="-3">Hemophagocytic<tspan x="-3" dy="8.7">lymphohistiocytosis</tspan></text></g>
<g id="d-infc" class="b3" transform="translate(916,879)"><use href="#cx"/><text y="-4.3">Inflammation<tspan x="0" dy="8.7">of cells</tspan></text></g>
<text x="813" y="897.5">Cytoplasmic</text><text x="813" y="906.5">granules</text>
<g id="d-gz2" class="o2" transform="translate(761,923)"><use href="#dw"/><text>GZMB</text></g>
<g id="d-pr2" class="o2" transform="translate(793,925)"><use href="#ci"/><text>PRF1</text></g>
<g id="d-pr3" class="g" transform="translate(836,925)"><use href="#ci"/><text>PRF1</text></g>
<g id="d-pore" class="w" transform="translate(904,925)"><use href="#cx"/><text y="-4.3">Pore<tspan x="0" dy="8.7">formation</tspan></text></g>
<g id="d-vt1" class="w" transform="translate(682,957)"><use href="#cx"/><text y="-4.3">Vesicle<tspan x="0" dy="8.7">transport</tspan></text></g>
<g id="d-lyst1" class="g" transform="translate(724,957)"><use href="#ci"/><text>LYST</text></g>
<g id="d-ap1a" class="g" transform="translate(724,981)"><use href="#ci"/><text>AP3B1</text></g>
<g id="d-vd1" class="w" transform="translate(682,1004)"><use href="#cx"/><text y="-4.3">Vesicle<tspan x="0" dy="8.7">docking</tspan></text></g>
<g id="d-rab1" class="g" transform="translate(724,1004)"><use href="#ci"/><text>RAB27A</text></g>
<g id="d-vp1" class="w" transform="translate(682,1026)"><use href="#cx"/><text y="-4.3">Vesicle<tspan x="0" dy="8.7">priming</tspan></text></g>
<g id="d-unc1" class="g" transform="translate(724,1026)"><use href="#ci"/><text>UNC13D</text></g>
<g id="d-stx1" class="g" transform="translate(724,1049)"><use href="#ci"/><text>STX11</text></g>
<g id="d-vf1" class="w" transform="translate(681,1073)"><use href="#cx"/><text y="-4.3">Vesicle<tspan x="0" dy="8.7">fusion</tspan></text></g>
<g id="d-sxb1" class="g" transform="translate(724,1073)"><use href="#ci"/><text>STXBP2</text></g>
<g id="d-lyst2" class="g" transform="translate(874,958)"><use href="#ci"/><text>LYST</text></g>
<g id="d-ap2" class="g" transform="translate(874,980)"><use href="#ci"/><text>AP3B1</text></g>
<g id="d-rab2" class="g" transform="translate(874,1004)"><use href="#ci"/><text>RAB27A</text></g>
<g id="d-unc2" class="g" transform="translate(874,1029)"><use href="#ci"/><text>UNC13D</text></g>
<g id="d-stx2" class="g" transform="translate(874,1055)"><use href="#ci"/><text>STX11</text></g>
<g id="d-sxb2" class="g" transform="translate(874,1079)"><use href="#ci"/><text>STXBP2</text></g>
<g id="d-vt2" class="w" transform="translate(920,957)"><use href="#cx"/><text y="-4.3">Vesicle<tspan x="0" dy="8.7">transport</tspan></text></g>
<g id="d-vd2" class="w" transform="translate(920,1004)"><use href="#cx"/><text y="-4.3">Vesicle<tspan x="0" dy="8.7">docking</tspan></text></g>
<g id="d-vp2" class="w" transform="translate(922,1030)"><use href="#cx"/><text y="-4.3">Vesicle<tspan x="0" dy="8.7">priming</tspan></text></g>
<g id="d-vf2" class="w" transform="translate(920,1079)"><use href="#cx"/><text y="-4.3">Vesicle<tspan x="0" dy="8.7">fusion</tspan></text></g>
<g id="d-fhlh" class="w" transform="translate(836,1004)"><use href="#nr" transform="scale(.8,.8)"/><text>FHLH</text></g>
<g id="d-stars"><use href="#st" x="859" y="944"/><use href="#st" x="859" y="967"/><use href="#st" x="859" y="991"/><use href="#st" x="859" y="1016"/><use href="#st" x="859" y="1042"/><use href="#st" x="859" y="1066"/></g>
<g id="d-gz3" class="o1" transform="translate(761,1121)"><use href="#dw"/><text>GZMB</text></g>
<g id="d-pr4" class="o1" transform="translate(793,1121)"><use href="#ci"/><text>PRF1</text></g>
<g id="d-aapc" class="o1" transform="translate(738,1156)"><use href="#cx"/><text y="-4.3">Apoptosis<tspan x="0" dy="8.7">of APC</tspan></text></g>
<g id="d-acan" class="o1" transform="translate(783,1156)"><use href="#cx"/><text y="-4.3">Apoptosis of<tspan x="0" dy="8.7">cancer cells</tspan></text></g>
<g id="d-pore2" class="o1" transform="translate(822,1156)"><use href="#cx"/><text y="-4.3">Pore<tspan x="0" dy="8.7">formation</tspan></text></g>
<text transform="translate(1002,1077)" y="-26">The cytotoxic response of<tspan x="0" dy="8.7">cytotoxic / NK cells is</tspan><tspan x="0" dy="8.7">downregulated by IL-6, or</tspan><tspan x="0" dy="8.7">inactivated by genetic defects,</tspan><tspan x="0" dy="8.7">leaving pathogens uncleared</tspan><tspan x="0" dy="8.7">inducing further CTL proliferation</tspan><tspan x="0" dy="8.7">and immune activation.</tspan></text>
<g id="d-il22" class="b3" transform="translate(964,855)"><use href="#sq"/><text>IL22</text></g>
<g id="d-il6f" class="b2" transform="translate(993,855)"><use href="#sq"/><text>IL6</text></g>
<g id="d-chemk" class="m" transform="translate(1026,855)"><use href="#sd"/><text>Chemokine</text></g>
<g id="d-il17" class="b3" transform="translate(1062,855)"><use href="#sq"/><text>IL17A</text></g>
<g id="d-il21f" class="b3" transform="translate(1091,855)"><use href="#sq"/><text>IL21</text></g>
<g id="d-csf2f" class="g" transform="translate(1123,855)"><use href="#sq" stroke-dasharray="2 1"/><text>CSF2</text></g>
<g id="d-th17d" class="w" transform="translate(1052,807)"><use href="#cx"/><text y="-4.3">TH17 cell<tspan x="0" dy="8.7">differentiation</tspan></text></g>
<g id="d-edema" class="b2" transform="translate(964,937)"><use href="#cx"/><text>Edema</text></g>
<g id="d-tiss" class="b3" transform="translate(1026,937)"><use href="#cx"/><text y="-4.3">Tissue<tspan x="0" dy="8.7">damage</tspan></text></g>
<g id="d-neutf" class="b1" transform="translate(1062,937)"><use href="#cx"/><text y="-4.3">Neutrophil<tspan x="0" dy="8.7">recruitment</tspan></text></g>
<g id="d-macaf" class="w" transform="translate(1123,937)"><use href="#cx"/><text y="-4.3">Macrophage<tspan x="0" dy="8.7">activation</tspan></text></g>
</g>
</g>
</svg>
